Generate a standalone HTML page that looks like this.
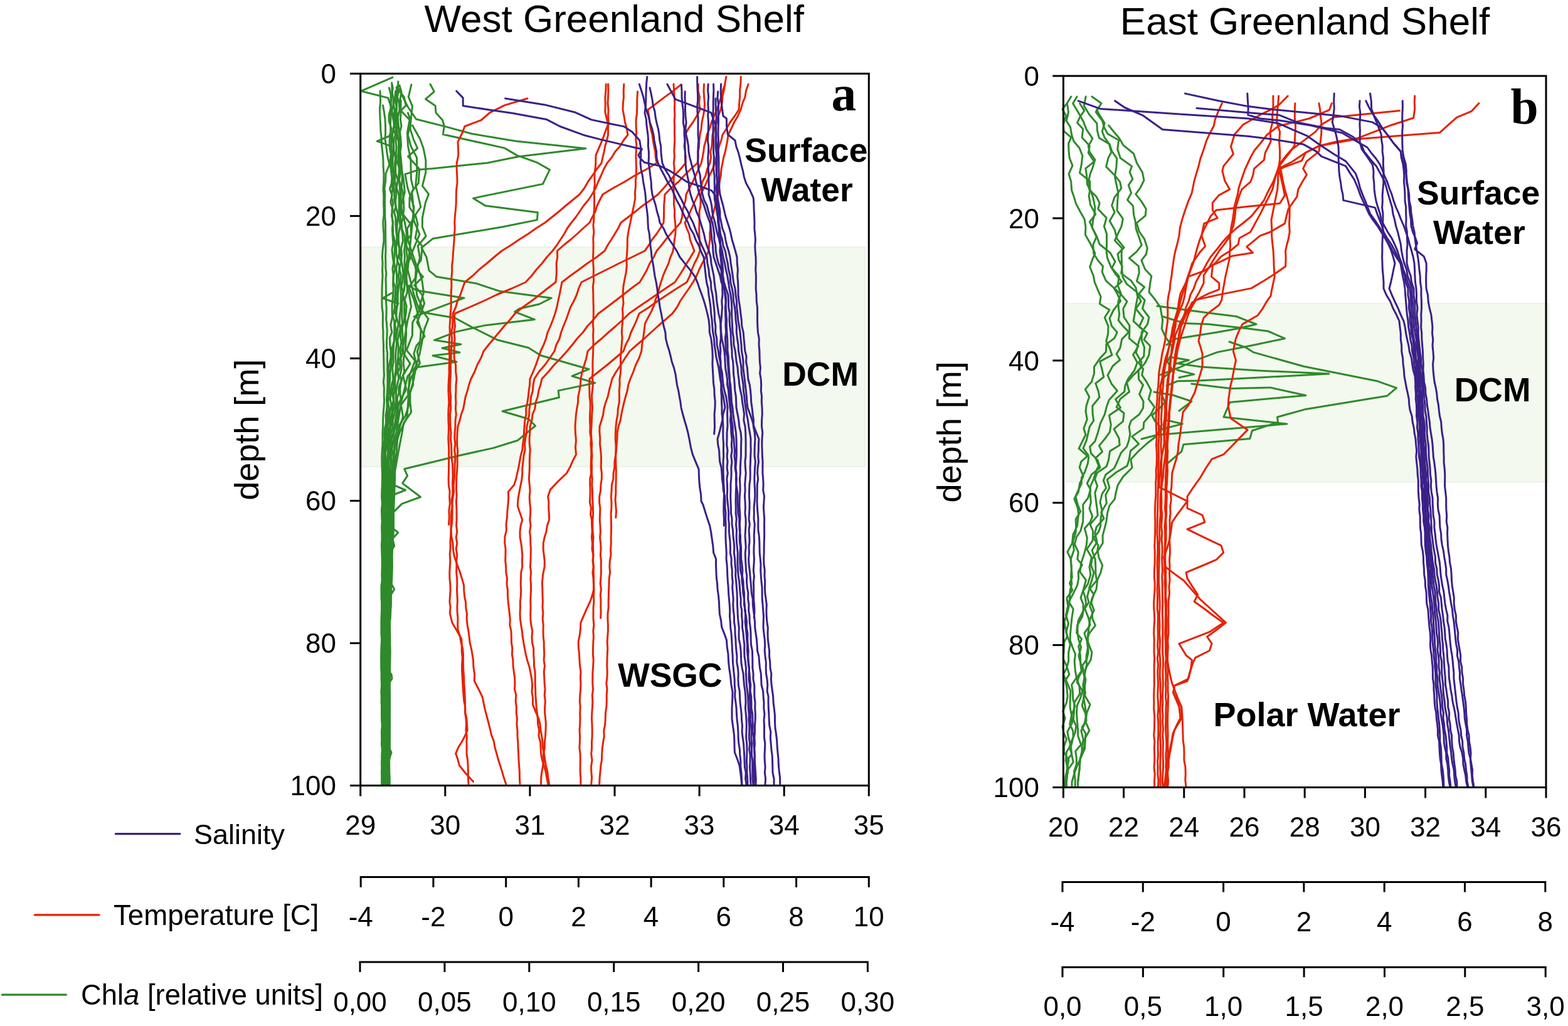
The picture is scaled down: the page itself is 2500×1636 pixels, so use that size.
<!DOCTYPE html>
<html><head><meta charset="utf-8"><title>Greenland Shelf profiles</title>
<style>html,body{margin:0;padding:0;background:#fff;}svg{display:block;}</style></head>
<body><svg width="2500" height="1636" viewBox="0 0 2500 1636">
<rect width="2500" height="1636" fill="#fff"/>
<rect x="576.5" y="393.8" width="802.8" height="350.4" fill="#f3f9ee" stroke="#e0eee2" stroke-width="1.2"/>
<rect x="1699.1" y="483.9" width="769.9" height="284.5" fill="#f3f9ee" stroke="#e0eee2" stroke-width="1.2"/>
<polyline points="625.9,123.4 575.8,145.2 618.6,156.1 624,171.5 627,190" fill="none" stroke="#2e8a2a" stroke-width="3" stroke-linejoin="round" stroke-linecap="round"/>
<polyline points="686,134.3 692.3,146.1 678.6,157.9 694.1,168.8 695,179.7 705.5,191.5 708.2,200.6 706.4,214.3 804.5,236.1 824.5,247.9 855.5,258.8 876.4,270.6 865.5,293.4 754.5,316.1 773.6,327.9 857.3,338.8 856.4,350.6 802.7,361.5 690,380.6 672,395 680,410 684,431.3 696.1,441.3 759.6,452 796.2,464.2 879.2,475.2 859.7,485 827.9,492.3 820.6,497.2 852.3,509.4 771.8,519.1 727.9,528.9 692.5,542.3 735,549 705,555 733,562 690,567 728,577 662,586 650,600 640,640 630,700 625,760 618,850" fill="none" stroke="#2e8a2a" stroke-width="3" stroke-linejoin="round" stroke-linecap="round"/>
<polyline points="640,150 650,170 663.5,190 709.3,201.6 752.1,213.3 822.1,225 934,236.7 826.4,249.7 777.3,259.7 690,268.8 667.7,270.6 645.9,277.9 650,300 660,330 655,380 650,430 660,470 669.3,497.2 725.4,507 752.3,521.6 793.8,542.3 842.6,554.5 862.1,566.7 939,588.7 912.1,599.7 948.8,610.6 890.2,622.9 891.4,633.8 801.1,655.8 842.6,668 853.6,679 825.5,702.2 786.4,714.4 735,725.8 644.7,747.7 649.6,758.7 641.7,770.6 670.5,792.5 640.7,803.4 626.7,817.4 622,860 618,950 616,1100 615,1251" fill="none" stroke="#2e8a2a" stroke-width="3" stroke-linejoin="round" stroke-linecap="round"/>
<polyline points="650,455 664.4,463 740,475.2 681.5,497.2 660,505" fill="none" stroke="#2e8a2a" stroke-width="3" stroke-linejoin="round" stroke-linecap="round"/>
<polyline points="622,760 625.7,772.6 646.6,781.5 625.7,789.5 620,800" fill="none" stroke="#2e8a2a" stroke-width="3" stroke-linejoin="round" stroke-linecap="round"/>
<polyline points="620,835 624.8,841.2 634.7,849.2 625.7,859.2 628.7,870.1 622.8,881 620,900" fill="none" stroke="#2e8a2a" stroke-width="3" stroke-linejoin="round" stroke-linecap="round"/>
<polyline points="618,920 622.8,928.8 628.7,939.8 621.8,950.7 618,960" fill="none" stroke="#2e8a2a" stroke-width="3" stroke-linejoin="round" stroke-linecap="round"/>
<polyline points="618,1070 624,1075 625,1082 620,1090" fill="none" stroke="#2e8a2a" stroke-width="3" stroke-linejoin="round" stroke-linecap="round"/>
<polyline points="617,1185 624,1200 619,1215" fill="none" stroke="#2e8a2a" stroke-width="3" stroke-linejoin="round" stroke-linecap="round"/>
<polyline points="603,225 601.4,225.2 620.5,217" fill="none" stroke="#2e8a2a" stroke-width="3" stroke-linejoin="round" stroke-linecap="round"/>
<polyline points="601.4,225.2 624.1,233.4" fill="none" stroke="#2e8a2a" stroke-width="3" stroke-linejoin="round" stroke-linecap="round"/>
<polyline points="625,467 609.8,475.6 635,484" fill="none" stroke="#2e8a2a" stroke-width="3" stroke-linejoin="round" stroke-linecap="round"/>
<polyline points="606,145 606.4,154 606.5,163 605.6,172 605.8,181 606,190 606.6,199.3 606.9,208.7 608,218 608.5,231 610,244 611,255 611.1,266 612,277 611.8,289.5 611,302 611.8,313 611.6,324 612,335 612,344 610.8,353 611,362 611.9,373 612,384 610,400 609.4,410 610.1,420 609.6,430 610,440 609.5,450 609.1,460 609,470 608.9,479.8 609.1,489.7 610.4,499.5 610.4,509.3 610.3,519.2 611,529 610.9,539 611.5,549 611.5,559 611.7,569 611.9,579 612,589 612.4,599 611.4,609 612.4,619 612.2,629 612.6,639 612,649 611.2,659.2 610.6,669.4 610.6,679.6 610,689.8 610,700 609.9,709 609.3,718 608.8,727 608.9,736 609,745 609.5,754.6 609.5,764.2 609.2,773.8 608.8,783.3 608.6,792.9 609.4,802.5 608.5,812.1 608.7,821.7 609.1,831.2 608.6,840.8 608.9,850.4 609,860 608.4,869.3 608.7,878.7 609.1,888 609.2,897.3 609.1,906.7 608.8,916 609.1,925.3 608,934.7 608,944 608.1,953.3 608.7,962.7 608.6,972 608.2,981.3 607.9,990.7 608,1000 607.9,1009.3 608.6,1018.6 608.2,1027.9 607.8,1037.2 607.6,1046.5 607.7,1055.8 607.7,1065.1 608.2,1074.4 608.1,1083.7 608.6,1093 607.8,1102.3 608.3,1111.6 608.1,1120.9 609,1130.1 608.9,1139.4 608.7,1148.7 609.2,1158 608.4,1167.3 609.1,1176.6 608.4,1185.9 609.3,1195.2 608.8,1204.5 609.3,1213.8 609,1223.1 608.5,1232.4 609.3,1241.7 609,1251" fill="none" stroke="#2e8a2a" stroke-width="3" stroke-linejoin="round" stroke-linecap="round"/>
<polyline points="610.5,168 612.5,179 614,190 614.5,200.7 614.6,211.3 614,222 615.7,233 617,244 618.6,253 621,262 615,277 614.7,288.5 613,300 613.8,309.1 613.5,318.2 613.5,327.3 613.8,336.4 613.8,345.5 614.5,354.5 614.6,363.6 614.7,372.7 614.7,381.8 614.9,390.9 615,400 614.6,409.1 614.9,418.2 614.8,427.3 615.9,436.4 615,445.5 615.4,454.5 615.4,463.6 615.6,472.7 615.5,481.8 616.2,490.9 616,500 615.7,509.1 616.7,518.2 617.2,527.3 617,536.4 616.5,545.5 616.5,554.5 617.7,563.6 617.5,572.7 617.7,581.8 617.7,590.9 618,600 618,609.1 617.8,618.2 617.2,627.3 616.5,636.4 617,645.5 617,654.5 616.8,663.6 615.4,672.7 615,681.8 615.9,690.9 615,700 615.2,709.1 614.6,718.2 614.3,727.3 613.6,736.4 613.8,745.5 613.3,754.5 613.4,763.6 612.4,772.7 613,781.8 612.3,790.9 612,800 612.3,809.1 611.3,818.2 612.2,827.3 612.1,836.4 611.2,845.5 611.6,854.5 611.8,863.6 611.4,872.7 611,881.8 611.6,890.9 611.6,900 611.6,909.1 611.6,918.2 610.8,927.3 611.9,936.4 611.3,945.5 611.5,954.5 611,963.6 611.1,972.7 610.5,981.8 610.8,990.9 611,1000 611.3,1009.3 611.2,1018.6 610.5,1027.9 611.5,1037.2 611.2,1046.5 611.5,1055.8 611.2,1065.1 610.6,1074.4 611.9,1083.7 612,1093 612,1102.3 611.8,1111.6 611.3,1120.9 611.1,1130.1 611.7,1139.4 611.6,1148.7 611.3,1158 611.9,1167.3 612,1176.6 611.3,1185.9 611.2,1195.2 612.5,1204.5 612.2,1213.8 611.3,1223.1 611.2,1232.4 611.9,1241.7 612,1251" fill="none" stroke="#2e8a2a" stroke-width="3" stroke-linejoin="round" stroke-linecap="round"/>
<polyline points="620.4,140 623.2,150.3 623,161.8 623.3,172 620.2,182.6 620.1,192.9 624.2,205.6 621.5,215.3 621.2,227.1 621.3,236 623.3,245.7 621.7,258.5 623.4,271.3 624.8,283.8 624.2,292.6 621.5,301.2 625.1,311.2 622.8,322.1 626.2,334.3 624.4,343.4 626.7,354.6 625.4,363.3 625.9,376.1 626.9,387.7 625,398.2 626.1,409.2 627.6,418.9 625.9,428.7 627.4,440.5 626.6,453 627.2,462.2 626.3,474.8 625.1,486.6 625.2,497.1 625.4,505.8 622.8,518.1 624.9,529.9 621.5,538.5 621.7,549.5 623,559 623,570.3 620.7,581.1 619.3,589.2 620.5,598.2 618.3,609.8 620.9,619.7 619.2,629.7 618.2,640.8 616.9,651.2 615.1,662.7 615.9,674.7 613.6,682.9 612.6,692.2 613.3,700.9 611.5,709.5 611.8,722.2 611.5,732.9 611,742.6 611.2,751.6 610.6,760.9 610.9,769.9 611.1,782.5 610.9,795.5 611.3,804.8 611.6,813.7 610.7,823.7 610.8,833 611.6,845.7 610.7,856.5 610.4,864.5 611,874 611.1,885.2 610.3,897.3 610.2,908.6 609.8,920.3 609.4,933.2 609.6,944.2 609.2,956.3 608.9,968.7 609.5,980.4 608.7,990.9 608.9,1000.8 608.6,1009.9 609.1,1022.1 609.2,1031.5 608.6,1042.6 609.1,1053.5 608.8,1062.1 609.1,1074.4 608.9,1083.5 609.2,1093.8 608.5,1106.1 608.9,1114.4 608.6,1122.5 608.5,1131 608.5,1142.1 609.6,1153 609.3,1161.7 608.6,1172.6 609.3,1185.3 609.5,1195.2 609.4,1203.7 608.5,1216 609.3,1228.5 608.7,1241.1 608.7,1251" fill="none" stroke="#2e8a2a" stroke-width="3" stroke-linejoin="round" stroke-linecap="round"/>
<polyline points="624.6,132 626.3,141 624.1,153.6 623,164.9 623.3,174 623,185.5 622.5,198.3 622.7,207.3 624.1,219.2 624,229.5 624.5,240.7 624.8,249.7 623.5,259.3 626.3,271.4 627.4,282.7 625.4,292.7 625.8,302.8 624.3,314.1 626.9,324.5 624.9,334.2 625.2,345.7 626.2,356.5 626.6,364.7 626.7,373 629.6,384.5 629.6,394.3 629.1,404.6 628.2,417 629.9,429.4 626.9,440.8 627,449.2 630.8,458.9 630,471.3 629.2,479.9 629.4,491.8 626.1,503.7 628.8,512.6 628.9,524.3 628.5,534.6 628.4,543.3 625,555.7 625.5,564 624.1,575.5 623.4,583.8 621.8,595.9 621.5,608.6 620.3,617.6 622.8,630.5 618.5,640.1 620.4,651.4 619,659.4 617.5,671.7 617.3,682.5 615.2,691.7 614.9,703 613.9,713.7 613.2,726.4 614.1,737.8 611.7,747.8 611.8,756.9 612.3,765.6 612.6,775.4 613,785.6 613,797 612.9,806.8 612.3,817.5 612.5,828.3 613,839.7 612.6,848.9 612.4,859.1 612,867.3 612.7,880.3 612.4,890.5 612.4,899.8 612.3,912.6 612.4,922.9 611.1,935.5 611.4,945.6 611.5,955 611.5,963.7 610.5,976 610.6,987.4 610.9,998.6 611,1011.5 610.9,1021.2 610.9,1029.9 610.4,1040 610.3,1049.2 610.2,1061.2 610.3,1070.3 610.9,1079.1 610.8,1090.1 610.6,1102.6 610.2,1110.8 610.9,1121.3 610.6,1133.9 610.7,1143.1 610.4,1155.7 611.1,1168.4 610.6,1179.3 610.1,1187.9 610.7,1196.1 611.2,1207.7 611.2,1218.7 610.1,1228.7 610.3,1237 611.1,1247.7 611.1,1251" fill="none" stroke="#2e8a2a" stroke-width="3" stroke-linejoin="round" stroke-linecap="round"/>
<polyline points="624.9,135 625,146.1 627,157.6 627,167.6 624.5,178.4 627,189 628.3,199.6 626.2,211.3 625.3,220.5 627.9,232.5 627,243.6 626.1,254.1 626,264.7 628.4,275.8 627.1,287.2 627.7,295.6 628.8,307.1 628.8,318.8 631.3,328.8 628.5,337.6 630.8,348.6 630.9,358.7 631.7,368.9 632.9,381.4 631.7,392.6 631.9,405.3 633.8,416.4 631.7,427.9 632.6,439.6 632.6,452.2 633.9,462.8 631.1,473.5 633.2,486.1 629.1,495 632.4,507.3 629.4,517.2 632.1,528.6 629.5,537.7 627.9,549 627.1,559.1 626.9,569.5 627.2,577.9 625.6,586.7 626.3,595.4 626.9,605 623.9,615.1 623.4,624 622.1,635.7 623.9,646 621.3,658.2 620.4,670.4 618.1,679.5 618.8,688.4 617.9,698.3 617.4,711.2 614.6,721.5 614.7,730.9 615.3,742.2 615.1,754.8 614.8,767.6 615,777.9 614.9,787.3 614.9,798.9 614.1,807.2 614,820 614.6,830.2 614.9,840.7 614.2,853.4 614.8,862.1 613.9,872.4 613.5,881.1 613.6,892 614.3,902.8 614.1,913.2 613.8,921.5 613.9,933.3 613.2,941.4 613.2,952.2 612.6,962.6 613.2,975.1 613.1,986.6 611.9,997.4 611.9,1008.8 612.5,1020.6 611.9,1029.6 611.9,1038 612,1050.9 611.9,1063.3 612.2,1073 612.8,1082.8 612.2,1092 611.8,1101 612,1112.4 612.5,1122.9 611.7,1131.3 612.8,1142.8 612.1,1150.9 612.6,1163.8 612.2,1176.8 611.6,1189.6 612.6,1200 612.1,1209.9 612,1220.2 612.7,1232.3 611.9,1241.4 611.9,1251" fill="none" stroke="#2e8a2a" stroke-width="3" stroke-linejoin="round" stroke-linecap="round"/>
<polyline points="630.8,145 629.7,155.3 627.5,167 629.2,175.3 628.2,184 630.4,196.4 627.1,205 630.5,214.1 628,222.2 627.6,230.8 628,241.4 630.6,251.4 629.4,263 630.5,275 629.5,287.1 631.2,297 631.8,309.7 630.6,320.1 630.9,329.5 634.4,342.4 633.4,354.9 632.9,366.4 632.7,376.8 633.6,386.9 636.9,395.4 636.6,403.9 633.4,415.4 637.4,425.8 635.5,438.8 636.1,450.6 635.2,460.1 634.2,471.1 634.2,483.2 632.2,494.9 631.8,505.1 635.2,516.4 633.6,527.1 631.6,538.2 632.6,548.1 631.2,559.4 630.5,569.7 631.4,580.5 631,590.2 629.2,602.4 627.1,615.3 625.4,627.9 627.4,637.7 625.8,645.9 624.9,658.2 622.1,669.7 621.7,679.3 619.2,687.6 619.2,700.1 618.2,708.9 618.8,718.3 617.9,727.7 616.3,739.5 616.5,748.7 616.6,758.7 616.7,768.4 615.9,778.5 616.8,790.3 616.3,801.7 616.7,814.1 616.2,822.2 615.9,830.2 616.1,839.5 616.5,850.8 615.5,860.1 616.2,873.1 615.2,883.9 616.1,892.2 615.9,902.8 615.6,914.7 614.8,926.7 614.9,936 615.1,947.8 614.7,959.6 614.1,970 614.5,981.3 614.4,991.9 614.6,1004.8 613.8,1013.3 614.2,1024.4 614.5,1033.8 614.3,1044.1 613.7,1052.4 614.3,1060.5 614.5,1071.1 613.7,1082.1 613.7,1091.9 613.4,1100.9 613.6,1112.2 614.1,1122.4 613.7,1131.8 613.6,1141.4 613.3,1152.7 613.3,1162.7 613.5,1174.1 613.7,1186.9 613.7,1198.2 613.9,1210.3 613.1,1221.5 614,1230.2 614.2,1240.3 614.2,1251" fill="none" stroke="#2e8a2a" stroke-width="3" stroke-linejoin="round" stroke-linecap="round"/>
<polyline points="633,138 632,150.4 630.2,159.5 632.3,171.1 629.5,179.2 629.3,191.6 630.4,202.9 632.9,214.1 631,225 632.1,234.7 631.3,245.8 632,256.1 630.7,265.4 630.8,276.3 634.3,287.2 632.3,299.4 635.7,309.5 636.4,319.2 636.2,328.2 635.8,336.4 635.9,348.4 638.1,359.6 635.5,372.6 635.4,383.2 636.4,393.1 638.9,401.9 636.8,410.3 639.7,418.4 636.4,427.6 639.3,438.7 638.5,449.8 639,460.5 639.3,470.1 639.1,481.5 638.7,494 637,504.6 637,516.3 638.3,524.4 636,533.4 633.8,543.7 635.4,554.5 634.9,566.6 634.2,576.1 633.9,588.9 630,601.2 629.8,612.6 629.5,621.4 627.6,630.3 627.4,639.4 629,648.6 625.9,657 625.5,665.3 624.3,674.4 622.3,683.6 620.6,694.1 620.6,706.5 620,716.5 619.2,729.2 617.9,739.2 618.9,749.1 617.9,760.1 617.7,772.6 618.4,782.4 618,795 618.1,803 617.4,813.2 618.4,822.9 617.5,831.1 618.2,840 618,849.5 617.1,860.9 617.1,871.1 617.4,883.1 617.6,892.9 616.6,905 616.7,913.5 616.7,923 617.2,933.2 617.1,944.5 616,955.6 615.8,966.5 615.6,977.4 615.6,990 615.4,1002.5 615.4,1011.6 616.1,1023.7 615.7,1035.4 615.3,1044.1 616.1,1052.3 615.8,1060.9 615.3,1068.9 615.2,1079.9 616,1088.3 614.9,1097.7 616.1,1109.3 614.9,1120 615.6,1130.1 615.3,1139.3 615.6,1151 615.9,1163.2 615.9,1173.8 615.3,1182.3 615.8,1193.7 615.2,1204.1 615.2,1216.5 615.2,1224.8 615.4,1234.2 614.6,1246.2 614.6,1251" fill="none" stroke="#2e8a2a" stroke-width="3" stroke-linejoin="round" stroke-linecap="round"/>
<polyline points="634.9,130 634.5,139.7 632.4,152.5 632.5,164.3 632.5,173.2 631.6,184.9 632.6,196.2 633.1,205.1 633.4,215 635.6,227.4 636,236.5 636,247.6 634.3,259.7 636.4,268.9 635.6,281.9 636.9,290.5 637.6,302.3 638.6,315.2 636.7,326.9 637.8,337.6 639,349.4 639.2,361.5 641.8,372.4 642.4,384.4 639.5,395.9 640.5,406 639.8,415.3 641.3,423.9 643,435.8 641.8,448.6 639.9,456.7 642.6,465 641.8,474.6 640.9,484.8 640.9,497.1 640.6,505.5 641.8,515.2 638.4,524.6 638.6,537.2 639.9,545.6 637.9,558.2 639.1,567 635.9,576.7 638.3,584.9 634.2,594.1 635.8,603.9 632.3,616.9 631.4,628 631.1,640.3 630.7,651.7 628.3,662.4 626.3,670.5 626.1,681.9 622.8,692.8 623.4,704.5 622.4,716.8 620.8,728.1 619.8,738 619.7,749.2 619.7,761.2 619.4,770.5 620.2,779.9 620.3,792.1 620,800.2 619.5,811.1 619.8,823.8 620,833.3 619.5,843.5 619.4,853.9 619.8,862 619.2,871.6 619.2,880.4 618.4,888.8 619.3,897.8 619,909.3 618.5,917.7 618.7,929.4 617.8,939.6 618.7,949.5 618.1,962 617.9,971.8 617.6,982.6 617.5,994.9 617.7,1003.4 616.9,1014.9 617.9,1025.5 617.5,1036.7 617.2,1047.1 617,1060.1 616.7,1070.4 617.4,1080.9 617.7,1092.4 616.8,1101.7 616.9,1111.5 616.7,1124.1 617.6,1134.4 616.9,1144.5 616.8,1154.6 617.3,1164.2 616.4,1172.2 617.2,1184.3 616.8,1194.4 616.5,1204.8 616.6,1214.9 616.6,1225.9 616.2,1236.8 616.1,1249.8 616.1,1251" fill="none" stroke="#2e8a2a" stroke-width="3" stroke-linejoin="round" stroke-linecap="round"/>
<polyline points="636.5,142 633.5,154.5 637,167.2 636.9,175.5 634.2,187.5 635.1,200.4 636.6,210.6 637.1,222.1 636.1,231.5 635.3,240.2 634.6,250.6 638,260.4 636.7,269.3 638.4,277.4 636.4,285.9 638.1,297.7 639.4,308.4 639.1,318.9 638.4,327.7 639.5,336.7 642.9,346.3 640.2,355.4 640.8,364.7 645.2,376.9 646,388.7 644.5,399.4 645.4,409.4 644.8,418.6 645.4,428.5 645.4,440.9 645.1,449.6 644.6,461.2 642.4,469.6 644.9,480.2 644.7,490.7 644.8,501.5 644.6,510.5 641.2,522.3 641.7,531.4 642.6,543.3 642.6,551.7 642.7,561.2 638.9,570.6 640,580.3 639.7,590.4 637.6,599 639.9,607.2 635.6,617.6 636.1,626.4 633.2,634.5 633.6,645.8 632.6,657.3 630.9,667 629.1,679 627.2,689.7 624.5,697.8 624.5,708.7 623.4,719.8 622.7,728 623,737 622.7,746.2 621.7,756.9 622.3,768 621.3,777.6 621.5,789.9 621.6,802.4 622,812.4 621.9,821 621.7,830.4 621.7,843.2 621.8,852.8 620.9,863.5 620.5,873.3 620.8,884.5 621.2,895.3 620,905.5 619.9,916.5 620.3,927.5 620.3,937.7 619.8,946.2 619.5,955.2 619.4,963.8 620.1,976.1 619.7,987.2 619.1,995.2 619.7,1006.8 619.7,1015.1 618.6,1028 619.6,1038 618.6,1047.7 619.2,1058.6 618.6,1070.5 618.6,1081 619.4,1093.7 618.4,1106.4 619.2,1115.3 619.2,1125.7 618.2,1136.9 619,1145.5 618.6,1154.9 618.1,1166 618.6,1174.4 618.4,1182.5 618.1,1192.5 618.8,1200.9 618.5,1212.3 618.9,1222.6 618,1232.9 618.4,1243.5 618.4,1251" fill="none" stroke="#2e8a2a" stroke-width="3" stroke-linejoin="round" stroke-linecap="round"/>
<polyline points="636.9,136 640.1,146.9 637.9,158.2 636.4,167.7 639.1,180.7 638.4,190 639.9,201.5 637.5,210.9 638.8,219.9 639.6,232.5 638.1,241.2 637.3,249.6 637.4,260 638.3,269.4 641.5,279.5 641,288.7 640.1,298.7 642.7,308.2 643.3,320.4 644.1,332.8 642.7,342.3 645.1,353.1 647.3,365.1 648.4,377.1 648,388.4 648,400.4 649.7,412.4 647.3,423 648.5,432.9 648,443.7 649,453.7 649.5,465.1 645.2,477.9 648.1,487.9 647.3,498.6 646,507.9 647,520.2 647.7,532.6 646.8,545.2 646.3,557.7 643.6,570.4 643.2,580.4 644.7,592.3 641,603.6 638.7,612 637.8,620.4 638,628.4 639.3,637.9 634.5,646.7 635.2,659.1 632.4,669.7 630.4,679.4 628,688.8 627.8,701.7 625.2,714 624.3,725.2 623.5,736.8 623.2,747.8 624.4,760.7 624.3,770.8 623.3,782.7 624,795 623.7,804.3 622.8,813.8 622.9,824.1 623.4,836.2 623,845.4 622.9,853.7 623.3,864.7 622.9,877.6 623.1,887.8 622.8,898.7 622.8,908.5 622.1,917.5 621.9,926.6 622.4,937.7 621.9,945.9 622,955 622,966.7 621.5,979.5 621.4,988.8 620.7,999.1 621.4,1007.7 620.5,1017.8 620.5,1026.9 621.2,1035.2 620.6,1045.6 620.5,1055.2 620.8,1065.7 620.6,1074.1 620.9,1086.5 620.5,1097.1 620.2,1106.7 620.1,1116.2 620.1,1124.4 621,1137.3 620.2,1145.5 620.2,1154.1 620,1165.1 619.9,1175.4 619.8,1185.9 620.1,1195.5 620.2,1204.9 620.1,1216.8 619.7,1229.1 620.4,1240.6 620.4,1251" fill="none" stroke="#2e8a2a" stroke-width="3" stroke-linejoin="round" stroke-linecap="round"/>
<polyline points="632.1,140 644.2,154.4 647.2,168.2 632.1,183.4 635.3,200.6 637.7,212.8 636.6,230.3 639.2,252.6 641,273 643.3,286.2 645.4,306.4 639.9,326.1 640.9,339.8 655.1,357.7 655.3,374.3 645.3,387.6 656.2,407.7 644.7,429.3 646.5,447.7 652.3,468.7 655.6,489 649.5,512.8 645.6,536.8 640.9,559.4 654,579.9 642.5,598.6 647.8,620.5 636.7,641.1 632.4,659.3 631.2,677.6 624.9,697.7 624,715.1 629.6,731.2 625.7,752.4 623.6,768.7 624.3,781.1 624.4,804.9 624.8,819.4 622.8,834.2 623.4,852.3 624.2,865.1 622.8,880.6 621.9,893.1 623.4,916.4 621.3,935.9 621.2,949.6 622.3,961.8 620.5,979.2 621.1,994.4 621.1,1012.6 621.6,1026.2 620.8,1039.4 620.1,1060.2 621.7,1072.4 620.1,1092.7 619.9,1112.7 619.6,1134.6 620,1147.9 621.2,1167.4 620.9,1182.3 620.2,1199.3 619.7,1219.4 619.8,1239.9 619.8,1251" fill="none" stroke="#2e8a2a" stroke-width="3" stroke-linejoin="round" stroke-linecap="round"/>
<polyline points="639.2,160 638.8,175.9 653.1,191.3 649.4,211.6 650.5,232.7 654.9,255 655,268.7 655.5,286.4 659.2,301 653,315.3 652.8,330.2 661.8,344.3 649.3,364.3 650.5,383.2 656.9,403 663.5,421.4 662.4,442.8 651.9,458.3 659.9,477.3 666.1,500 657.7,514.3 657.4,534.8 648.2,558.4 661.8,575.3 653,598.7 652,613.7 651.2,629.6 639.4,645.7 642.6,664.7 636.7,682.6 631.6,701.4 628.9,713.5 627.3,736 629.6,757.4 626.2,769.9 624.5,787.7 625.2,802.3 625.7,819.9 625.3,836.1 625.4,853.1 623.4,876.8 622.8,898.6 624,914.6 621.9,931.8 623.5,943.9 623,966.2 621.3,982.3 620.4,1002.5 620.6,1021.7 621.7,1036 621.8,1050.8 621.3,1070.8 620.5,1090.5 620,1114 620.9,1136.9 620.8,1156.2 620,1172.8 620.9,1189 621.1,1204.8 619.5,1225.1 621.1,1238.2 621.1,1251" fill="none" stroke="#2e8a2a" stroke-width="3" stroke-linejoin="round" stroke-linecap="round"/>
<polyline points="655.9,135 651.3,154.7 657.4,169.1 655,192.7 650.3,215 655.2,233.3 664.5,251.2 664.8,273.5 662.7,295.9 666.1,309.5 670.8,330 662.3,342.5 666.1,357.5 662.2,379.9 673.3,392.4 671.2,414.9 662.3,427.3 674.5,441.4 660.6,454.9 672.8,469.6 676.6,484 670.9,499.7 664.8,514 677,536.3 663.9,551.3 659.8,563.9 664,580.6 657.9,599.4 658.8,613.3 651.6,629.5 649.8,653.2 649,665.4 637.3,689 629.6,712.8 626.4,735.8 628.8,758.2 626.5,781.7 627.4,801.5 625.6,815 625.2,833.7 624.7,846.4 625.6,862.6 625.1,880.1 623.7,892.5 623.3,911.2 622.8,923.4 624,943.2 621.7,961.2 622.6,975.5 621.1,997 620.6,1014.6 621.9,1033.1 621.8,1051.1 621.7,1065.9 621.5,1083.6 621.1,1096.4 620.6,1115.9 620.1,1134.5 621.4,1151.5 620.9,1171.3 621.2,1193.8 620.5,1211.9 620.8,1234.4 620.8,1251" fill="none" stroke="#2e8a2a" stroke-width="3" stroke-linejoin="round" stroke-linecap="round"/>
<polyline points="657.6,200 669.9,222.1 675.2,236.7 678.9,255.8 678.8,275.1 673.5,296.4 683.5,309.6 678.4,323 673.5,346.9 673.3,362 679.2,376.5 666.2,392 669.5,411.2 665.7,425.3 672.9,447.4 675.5,466.6 668.9,489 683,508.6 676.9,524 673.8,540.1 669.3,563.4 663.4,584.2 659.4,605.6 653.9,627.1 653.9,641.7 655.7,657.1 643.4,675.1 641.2,689.3 637.2,709.8 633.9,727.6 629.8,751 629.2,774.9 628.3,798.7 627.5,819 627.6,835.7 627.2,852.3 625.1,869.6 625.3,891.7 625.4,903.8 624.7,925.3 623,942.9 623.3,957.5 622.7,977.6 621.4,992.4 621.9,1016.1 621.7,1039.4 621.1,1052.4 621.7,1071 620.7,1091.3 621.5,1114.3 621.5,1131.5 621.3,1148.4 620.4,1160.7 621,1183.9 620.8,1205.4 620.2,1222.1 620.4,1244.8 620.4,1251" fill="none" stroke="#2e8a2a" stroke-width="3" stroke-linejoin="round" stroke-linecap="round"/>
<polyline points="650.4,180 654.8,193 654.2,206.6 659.5,222.6 665.6,236.5 650.6,249.4 668.7,269.5 667.2,291.8 656.8,305.6 658.3,321.1 659.5,335.2 659.8,351.7 669,373.4 663.4,387 654.8,407.8 664.8,431.1 662.3,448.5 664.8,471.3 672.6,488.6 664,502.8 671.1,525.9 669.7,547.2 665.2,561 669.4,579.1 655,602.8 650.2,624.5 653.4,641.4 646,664 636.2,678.3 633.6,701.6 632.2,720.5 629,743.9 626.6,763.3 626.8,783.5 626.9,802.3 626.5,818.7 625.8,842.7 625.1,859.5 625.2,876 623.4,897.2 624.2,913.7 623.8,927.7 622.2,946.4 623.2,962.7 622.1,976.1 621.1,999.9 621.2,1021.4 621.8,1044.6 620.6,1065.5 620.8,1088.7 621.4,1110.4 620.8,1129.7 621.4,1150.9 621.3,1173.3 620.2,1188.4 620.6,1209.4 620.6,1232.1 620.6,1251" fill="none" stroke="#2e8a2a" stroke-width="3" stroke-linejoin="round" stroke-linecap="round"/>
<polyline points="840.9,157 804.5,167.9 780.9,179.7 767.3,191.5 740.9,201.5 737.3,211.5 730,226.1 730.5,236.6 730.9,247 728.2,260.6 728.2,270.9 728.8,281.2 729.1,291.5 727.6,302.4 727.3,313.4 727.2,324.3 726.4,335.2 725.3,345 724.8,354.8 725.2,364.5 724.4,374.3 724,384.1 723.2,394 722.4,403.9 721.9,413.7 720.6,423.5 720.7,433.4 719.7,444.5 719.9,455.5 719.3,466.6 719.2,477.7 719.2,488.8 718.2,499.9 717.7,510.9 717,522 717.4,531.1 716.3,540.2 716.2,549.2 716,558.3 716.8,567.4 716.5,576.5 716.1,585.5 716.2,594.6 715.6,603.7 715.1,613.2 714.9,622.8 715.4,632.3 715.9,641.9 715.1,651.4 714.8,660.9 714.9,670.5 715.4,680 715.3,689.3 714.7,698.6 715.3,707.9 715.7,717.2 715.7,726.6 715.6,735.9 715.6,745.2 715.4,754.5 715.1,764.2 715.4,773.9 717.1,783.6 716.7,793.3 717.3,803 715.9,814.2 716.3,825.3 715.4,836.5" fill="none" stroke="#e62200" stroke-width="3" stroke-linejoin="round" stroke-linecap="round"/>
<polyline points="1074,134 1074.6,144 1075.1,154 1075.8,164 1075.4,174 1075.9,183.5 1075.2,193 1075.7,202.4 1075.4,211.9 1075.8,221.4 1075.4,230.9 1074.8,240.4 1075.4,249.9 1074.3,259.4 1075.2,268.8 1074.8,278.3 1074,287.8 1074.5,297.3 1074.1,306.8 1074.6,316.3 1074.4,325.8 1075.7,335.3 1075.4,344.8 1076.5,354.3 1077.2,363.7 1076.9,373.2 1075.2,382.7 1074.4,392.2 1072.6,401.7 1068.5,411.2 1065.7,420.7 1061.2,430.2 1057.2,439.7 1054.1,449.1 1051.2,458.6 1049.1,468.1 1045.2,477.6 1042.7,487.1 1038.5,496.6 1033.4,506.1 1028.5,515.6 1027.1,526.7 1025.7,537.8 1023.7,548.9 1022.8,560 1018.9,571 1013.6,582 1009.7,593 1005,604 1001.8,613.5 1000.2,623 997.4,632.5 994.9,642 992.6,651.5 990.7,661 989.1,670.5 986,680 984.3,689.3 984,698.6 983.2,707.9 982.7,717.2 981.5,726.6 979.9,735.9 979.8,745.2 978,754.5 977.8,763.8 975.4,773.1 975.1,782.5 974.3,791.8 975,801.1 974.8,810.4 974.1,819.7 974.4,829 974.6,838.4 974.5,847.7 974.1,857 974.3,866.3 973.6,875.6 974,884.9 972.3,894.2 971.9,903.5 972.6,912.9 971.2,922.2 971,931.5 970.6,940.8 970.4,950.1 970.1,959.4 970.2,968.7 969,978 968.9,987.4 969.4,996.7 969.4,1006 968.7,1015.3 968.2,1024.6 968.8,1033.9 968.3,1043.2 968,1052.6 967.8,1061.9 968.3,1071.2 967.9,1080.5 966.8,1089.8 968,1099.1 967.2,1108.5 967.3,1117.8 966.9,1127.1 965.5,1136.6 965.2,1146 964.7,1155.5 962.8,1164.9 963.2,1174.4 961.6,1183.8 960.3,1193.3 959.7,1202.7 959.4,1212.2 957.8,1221.6 957,1231.1 956.1,1240.5 955.7,1250" fill="none" stroke="#e62200" stroke-width="3" stroke-linejoin="round" stroke-linecap="round"/>
<polyline points="1016.6,146 1015.7,160 1015.8,170.6 1015.4,181.2 1014,191.8 1014.2,202.4 1014.7,211.9 1013.7,221.4 1014.9,230.9 1014.3,240.3 1013.9,249.8 1014.2,259.3 1014.5,268.8 1014.4,278.3 1013.4,287.8 1013.5,297.3 1012.4,306.8 1012.8,316.3 1011,326 1009,335.6 1006.9,345.3 1005,355 1002.2,367.5 1000.4,380 1000.3,390.9 999.8,401.9 998.9,412.8 999.3,423.7 998.2,434.6 995.9,445.5 993.9,456.4 993.3,465.5 993.3,474.6 994,483.7 992.5,492.8 993.1,501.9 992.8,511 991.9,520.4 991.3,529.7 992.1,539.1 991.3,548.4 990.5,557.8 989.6,567.1 989.5,576.5 989.8,585.9 989.4,595.2 987.9,604.6 988.1,613.9 987.2,623.3 987.5,632.6 987.3,642 985.3,651.5 984.8,661 983,670.5 982,680 981.4,690 981.2,700 982,710 981.8,720 981.7,729.6 981.9,739.1 982.3,748.7 982.2,758.3 982.1,767.9 981.8,777.4 981.8,787 981,796.6 981.8,806.2 982.5,815.7 981.8,825.3" fill="none" stroke="#e62200" stroke-width="3" stroke-linejoin="round" stroke-linecap="round"/>
<polyline points="966.2,134.3 965.8,145.4 964.9,156.4 965.2,167.4 964.8,178.5 967.1,188.3 969.7,198.1 965.5,208.8 961.7,219.4 957.4,230.1 950,247.3 949.9,256.7 949.4,266.1 948,275.6 948,285 948.3,294.2 947.2,303.3 947.5,312.5 947.6,321.7 947.5,330.8 947,340 946.8,350 945.9,360 946.9,370 945.8,380 946.1,390 946,400 945.6,409.6 945.7,419.2 946.4,428.8 946.2,438.5 946.6,448.1 945.3,457.7 945.8,467.3 945.9,477 946.2,486.7 946.3,496.4 946.2,506.1 945.3,515.8 946.1,525.5 945.6,535.2 946,544.9 945.8,554.6 945.6,564 945.1,573.3 944.9,582.7 945.1,592 944.3,601.4 945.6,610.7 944.7,620.1 943.6,630.1 943.8,640.1 944.6,650 943.8,660 943.4,670 943,680 942.4,689.3 942.9,698.6 943.7,708 943.3,717.3 944,726.6 943.3,735.9 943.6,745.2 943.4,754.5 944.2,763.8 943.8,773.2 944.6,782.5 944.5,791.8 945,801.1 945.4,810.4 945.7,819.7 945,829 944.8,838.3 945.1,847.6 946.1,857 945.3,866.3 945.6,875.6 946,884.9 945.5,894.2 946.4,903.5 946.3,912.8 946.6,922.1 946.7,931.5 947.1,940.8 946.5,950.1 947,959.4 946,968.7 946,978 946,987.3 946.9,996.7 945.8,1006 946.4,1015.3 945.8,1024.6 945.5,1033.9 945.4,1043.2 946.2,1052.6 945.7,1061.9 945,1071.2 944.8,1080.5 944.8,1089.8 945.6,1099.1 944.3,1108.5 944.9,1117.8 944.5,1127.1 943.8,1136.6 943.5,1146 944,1155.5 944.2,1164.9 944.1,1174.4 943.5,1183.8 943.5,1193.3 942.7,1202.7 944,1212.2 942.6,1221.6 942.8,1231.1 943.6,1240.5 942.7,1250" fill="none" stroke="#e62200" stroke-width="3" stroke-linejoin="round" stroke-linecap="round"/>
<polyline points="969.6,134.3 969.9,144.5 969.5,154.7 969,164.8 970,175 969.6,185 970.3,195 969.5,205 969.5,215 967.5,224 964.7,233 963.1,242 960.9,251 959,260 951.3,270 944.5,280 937.3,290 931.7,300 924,310 913,319 902,328 891.5,337 880.3,346 869,355 854.8,364 842.1,373 827.7,382 814.6,391 800,400 787.8,410 776.1,420 763.8,430 753.3,440 741,450 737.4,460 734,470 729.4,480 726.6,490 722,500 722,510 721.6,520 719.7,530 720.6,540 720.3,550 719,560 719.2,571 718.4,582 718.5,593 718,604 717.6,613.5 717.5,623 718.7,632.5 718.3,642 718.7,651.5 717.5,661 717.8,670.5 718,680 719.1,690 718.4,700 719.5,710 719.9,720 720,730 721.5,740 721.8,750 722,760 721.5,769.3 721.8,778.7 721.9,788 720,797.3 721.3,806.7 719.6,816 719.6,825.3 718.9,834.7 719.1,844 719.7,855.1 722,866.3 722.6,877.5 724.7,888.6 728.6,899.8 732.9,911 736.4,922.1 739.6,933.3 739.8,942.4 740.7,951.4 742.6,960.5 742.8,969.5 744.5,978.6 744.2,987.6 745.2,996.7 746.9,1006 748.1,1015.3 749.1,1024.7 751.4,1034 753,1043.3 754.5,1052.6 754.9,1063.8 756.7,1074.9 756.4,1086.1 763.3,1099.2 769.4,1112.2 771.3,1122.1 773.5,1132.1 776.1,1142 778.7,1151.9 781.2,1161.9 783.5,1171.8 787.3,1181.7 789,1191.7 791.8,1201.6 794.5,1211.3 797.6,1221 800.6,1230.6 803.4,1240.3 806.7,1250" fill="none" stroke="#e62200" stroke-width="3" stroke-linejoin="round" stroke-linecap="round"/>
<polyline points="994.8,134.3 994.2,144.5 994.4,154.7 993.4,164.8 993,175 994.9,185 996.5,195 999.3,205 1001,215 994,224 988.6,233 980.7,242 975.4,251 968,260 962.5,270 958.3,280 953.7,290 949.6,300 944,310 938,319 930.5,328 924.4,337 918.2,346 911,355 904.4,364 899.6,373 893.6,382 887.8,391 881,400 871.9,410 864.2,420 855.1,430 847.4,440 838,450 815.9,460 791.9,470 771,480 748.2,490 725,500 724.4,510 725.5,520 723.9,530 725.1,540 724.3,550 724,560 724.1,571 726.6,582 726.7,593 728,604 727,613.5 726.9,623 726.5,632.5 726.9,642 726.4,651.5 727.3,661 726,670.5 726,680 725.1,689.3 724.8,698.6 725.9,707.9 724.6,717.2 726,726.6 725.5,735.9 725,745.2 724.7,754.5 724.2,764.4 723.1,774.4 723.6,784.3 721.9,794.3 720.9,804.2 721.1,814.2 721,824.1 720.6,834.1 719.1,844 718.6,853.9 718,863.8 718.1,873.8 717.2,883.7 717.8,893.6 717.3,903.5 716.8,912.8 716.9,922.1 717.8,931.4 718.1,940.8 717.5,950.1 716.9,959.4 718.1,968.7 717.3,978 721,993 728.6,1006 735.9,1019 736.3,1029.1 736.2,1039.2 737.3,1049.3 736.6,1059.5 736.6,1069.6 737.2,1079.7 737.7,1089.8 738.3,1099.1 739,1108.5 739.8,1117.8 741.8,1127.1 741.9,1136.4 744,1145.8 744.5,1155.1 745.2,1164.4 741.2,1173.7 736.2,1183 730.5,1192.3 726.6,1201.6 730,1210.9 732.2,1220.2 742.5,1233.2 754.5,1246.3" fill="none" stroke="#e62200" stroke-width="3" stroke-linejoin="round" stroke-linecap="round"/>
<polyline points="1085.5,135.2 1073.2,145.1 1059.3,155.1 1046.2,165.1 1033,175 1034.7,185 1035.9,195 1037.4,205 1040,215 1041.2,224 1042.8,233 1044.7,242 1045.3,251 1047,260 1030.6,270 1011.9,280 995.7,290 977.4,300 961,310 956.3,319 951.9,328 949.3,337 944.5,346 940,355 929.8,364 920.1,373 909.9,382 898.6,391 888.5,400 888.7,410 887.1,420 887.4,430 887.1,440 886,450 872.8,460 860.3,470 847.4,480 833.3,490 821,500 813.1,510 803.8,520 795.6,530 787.2,540 778.9,550 771,560 766.8,571 760.9,582 756.6,593 751,604 747.7,613.5 745.3,623 742.2,632.5 740.5,642 738.7,651.5 735.3,661 733,670.5 730,680 729.1,690 728.7,700 728.8,710 729.8,720 729.1,730 729.3,740 728.7,750 728,760 727.6,770 727.4,780 728.2,790 727.4,800 728,810 728,820 728.1,829.2 727.6,838.4 728.8,847.7 727.2,856.9 728.8,866.1 727.2,875.3 728.8,884.6 727.8,893.8 728,903 727.6,912.2 728.6,921.4 728.9,930.5 728.5,939.7 728.9,948.9 729.4,958.1 728.9,967.3 729.1,976.5 730,985.6 729.7,994.8 730,1004 733.2,1014 735,1024 737.7,1034 738.5,1043.3 738.5,1052.6 738.4,1061.9 739,1071.2 739.7,1080.5 739.9,1089.8 740.7,1099.1 741.1,1108.4 741.5,1117.7 741.5,1127 741.5,1136.5 743,1145.9 743.5,1155.4 742.9,1164.8 744.3,1174.3 744,1183.8 744.1,1193.2 744.1,1202.7 745.6,1212.2 746.1,1221.6 746.4,1231.1 746.4,1240.5 747,1250" fill="none" stroke="#e62200" stroke-width="3" stroke-linejoin="round" stroke-linecap="round"/>
<polyline points="1113.3,134.3 1113.1,144.5 1115.5,154.7 1114.8,164.8 1116,175 1110.9,185 1104.8,195 1097.6,205 1092,215 1092.2,224 1092.2,233 1092.4,242 1093.3,251 1093,260 1084.8,270 1075,280 1066.7,290 1058.1,300 1049,310 1037.4,319 1024.7,328 1013.4,337 1001.8,346 990,355 985.6,364 980.2,373 974.7,382 968.8,391 964,400 951.2,410 936.3,420 922.9,430 909,440 896,450 894,460 892.1,470 889.8,480 887.8,490 885,500 881.5,510 877.6,520 873.1,530 870.5,540 866.7,550 862,560 858.2,571 854.4,582 849.9,593 845,604 844.6,613.5 843.2,623 842.2,632.5 840.8,642 838.7,651.5 838.9,661 836.9,670.5 836,680 835.5,689.3 835.1,698.6 833.6,708 832.8,717.3 830.2,726.6 828.5,735.9 826.9,745.2 824.7,754.5 822.8,763.8 819.7,773.1 810.4,784.3 810.7,794.5 810,804.8 808.9,815 808.5,825.3 807,835.5 807.4,845.8 804.9,856 804.8,866.3 806.1,875.6 806,884.9 805.7,894.2 806.7,903.5 806.8,912.8 808.5,922.1 808,931.4 809.4,940.8 809.5,950.1 810.2,959.4 811.2,968.7 812.3,978 813.3,987.3 812.8,996.6 815,1006 815.3,1015.3 815.4,1024.6 816.9,1033.9 816.4,1043.3 817.9,1052.6 818.1,1061.9 819.3,1071.2 820.6,1080.5 821,1089.8 820.5,1099.2 822.9,1108.5 822.1,1117.8 823.4,1127.1 823.3,1136.6 824.4,1146 823.9,1155.5 825,1164.9 825,1174.4 825.9,1183.8 826.1,1193.3 826.7,1202.7 827,1212.2 827.7,1221.6 828.4,1231.1 828.4,1240.5 829,1250" fill="none" stroke="#e62200" stroke-width="3" stroke-linejoin="round" stroke-linecap="round"/>
<polyline points="1122.5,134.3 1122,144.5 1122.6,154.7 1123.5,164.8 1123,175 1121.2,185 1119,195 1118.1,205 1116,215 1114.9,224 1114.6,233 1113.1,242 1113.3,251 1112,260 1100.8,270 1090.8,280 1081.6,290 1069.7,300 1060,310 1059.4,319 1058.6,328 1058.6,337 1058.5,346 1058,355 1052.8,364 1046.8,373 1039.7,382 1034.5,391 1028,400 1007.7,410 986.9,420 967,430 946.9,440 927,450 922.6,460 919.5,470 914.9,480 909.5,490 906,500 902.5,510 898.3,520 894.6,530 892,540 886.9,550 884,560 876.4,571 868.7,582 859.1,593 852,604 850.1,613.5 849.5,623 846.7,632.5 845.8,642 844,651.5 843.7,661 842.1,670.5 840,680 839.6,689.3 837.8,698.6 836.6,707.9 837.1,717.2 835,726.6 834.1,735.9 832.9,745.2 832.8,754.5 831.9,764.9 829.7,775.4 827.7,785.8 825.9,796.3 825.3,806.7 829,817.9 832.8,829 830.1,838.4 829,847.7 829.1,857 830.9,866.3 832,875.6 832.8,884.9 832.5,894.2 832.8,903.5 830.8,912.8 830.5,922.1 830.2,931.5 830.7,940.8 830.4,950.1 829.3,959.4 829.5,968.7 829,978 829.4,987.3 830.8,996.7 832.3,1006 833.3,1015.3 834.8,1024.7 836.5,1034 838.4,1043.7 840.8,1053.4 843.9,1063 845.9,1072.7 847.7,1082.4 848.7,1092.7 848,1102.9 849.6,1113.2 849.5,1123.4 853.9,1134.6 858.8,1145.7 861.1,1155.2 862.1,1164.7 863.7,1174.1 865.1,1183.6 865.6,1193.1 867.6,1202.6 868.9,1212.1 870.6,1221.6 873,1231 873.9,1240.5 875.6,1250" fill="none" stroke="#e62200" stroke-width="3" stroke-linejoin="round" stroke-linecap="round"/>
<polyline points="1156.1,134.3 1152.3,144.5 1149.7,154.7 1146.5,164.8 1143,175 1138.6,185 1134.4,195 1131.5,205 1127,215 1125.4,224 1122.8,233 1121.7,242 1120.1,251 1118,260 1113.6,270 1109,280 1104.4,290 1099.1,300 1094,310 1093.1,319 1090.4,328 1088.2,337 1087.6,346 1085,355 1077,364 1069.2,373 1061.5,382 1054.7,391 1047,400 1042.3,410 1035.9,420 1031.6,430 1026.1,440 1020,450 1006.3,460 993.6,470 980.6,480 967.5,490 954,500 946,510 936.6,520 929.4,530 920.1,540 912.3,550 904,560 894.1,571 883.3,582 874.3,593 864,604 861.8,613.5 858.8,623 857.3,632.5 853.9,642 852.9,651.5 849,661 847.9,670.5 845,680 844.9,689.3 844.1,698.6 844.2,707.9 845.3,717.2 844.6,726.6 844.3,735.9 844.4,745.2 843.9,754.5 843.4,763.8 844.3,773.1 845.1,782.5 844.2,791.8 844.6,801.1 845.7,810.4 845.7,819.7 844.8,829 846.1,838.3 844.6,847.7 845.7,857 845.8,866.3 846.4,875.6 846.2,884.9 846,894.2 845.4,903.5 846.6,912.8 845.9,922.1 846.5,931.5 846.6,940.8 846.1,950.1 845.8,959.4 846.1,968.7 845.8,978 845.9,987.3 846.9,996.6 848.8,1006 848,1015.3 848.5,1024.6 850.7,1033.9 850.7,1043.3 851.4,1052.6 851.5,1061.9 853.1,1071.2 853.3,1080.5 853.2,1089.8 853.7,1099.2 853.8,1108.5 854.6,1117.8 855.1,1127.1 856.3,1136.4 857.3,1145.7 857.6,1155 859.6,1164.3 859,1173.7 861.6,1183 862.1,1192.3 862.6,1201.6 864.2,1211.3 867.4,1221 870.1,1230.6 871.8,1240.3 873.7,1250" fill="none" stroke="#e62200" stroke-width="3" stroke-linejoin="round" stroke-linecap="round"/>
<polyline points="1157.8,122.6 1155.9,133.1 1154.3,143.6 1152,154 1151.2,164.5 1149,175 1145.2,185 1142.9,195 1139,205 1136,215 1135.5,224 1134.9,233 1132.8,242 1133.6,251 1132,260 1127.4,270 1125.1,280 1119.8,290 1117.5,300 1113,310 1108.9,319 1104.8,328 1100.7,337 1097.1,346 1092,355 1094.8,364 1098.8,373 1100.2,382 1103.6,391 1107,400 1101,410 1094.8,420 1089,430 1082.7,440 1076,450 1061,460 1046.5,470 1032,480 1017.1,490 1003,500 992.7,510 981.7,520 970.1,530 959,540 947.1,550 937,560 934.9,571 931.5,582 928.2,593 926,604 925.4,613.5 923.8,623 921.8,632.5 921.5,642 919.8,651.5 918.4,661 917.7,670.5 917,680 917.5,691.2 918.4,702.4 917.5,713.5 918.5,724.7 913.3,734.6 908.9,744.6 903.5,754.5 889.9,767.5 877.5,780.6 873.7,791.8 874.9,801.1 874.7,810.4 875.4,819.7 875.6,829 872.4,838.3 871,847.6 868.1,857 866.3,866.3 866.1,875.6 867.2,884.9 868.3,894.2 868.2,903.5 865.6,916.5 864.4,929.6 864.9,939.2 865,948.8 865.4,958.4 865,967.9 865.9,977.5 865.2,987.1 866.3,996.7 866,1006 866.3,1015.3 867.2,1024.6 867.3,1033.9 867.8,1043.2 867.1,1052.6 868.5,1061.9 867.2,1071.2 867.8,1080.5 868.2,1089.8 869.1,1099.1 868.2,1108.5 869.4,1117.8 868.7,1127.1 868.6,1136.4 869.7,1145.8 870.4,1155.1 870,1164.4 869.5,1173.9 868.4,1183.4 868.3,1192.9 866.5,1202.4 866.7,1212 865.6,1221.5 863.8,1231 862.7,1240.5 862.6,1250" fill="none" stroke="#e62200" stroke-width="3" stroke-linejoin="round" stroke-linecap="round"/>
<polyline points="1181.3,122.6 1180.9,133.1 1179.6,143.6 1179.7,154 1178.7,164.5 1178,175 1171.4,185 1164.1,195 1158.3,205 1152,215 1149.8,224 1146.7,233 1144.5,242 1141.9,251 1140,260 1135.9,270 1131.2,280 1126.8,290 1122.3,300 1117,310 1117,319 1116.9,328 1115,337 1115.1,346 1115,355 1114.7,364 1114.9,373 1115.4,382 1115.8,391 1116,400 1112.4,410 1107.3,420 1103.1,430 1099.9,440 1095,450 1079,460 1063.7,470 1048.6,480 1034.7,490 1019,500 1015.3,510 1010.8,520 1006,530 1002.8,540 997.5,550 994,560 981,571 967.9,582 954,593 940,604 939.5,613.5 939.9,623 940,632.5 941.2,642 941.1,651.5 940.6,661 940.5,670.5 941,680 940.7,689.3 942.3,698.6 941.8,708 942.7,717.3 942.7,726.6 942.3,735.9 942.1,745.2 942.6,754.5 940.7,763.9 940.7,773.2 941.2,782.5 940.8,791.8 940.4,801.1 942.5,810.4 941.5,819.7 943.5,829 943.6,838.4 944.2,847.7 943.4,857 944.5,866.3 944,875.6 945.9,884.9 945,894.2 946.2,903.5 944.9,912.9 946,922.2 946.4,931.5 946.4,940.8 944,950.1 940.8,959.4 935.5,970.6 930.6,981.8 925.9,993 925.4,1002.9 924.3,1012.9 922.2,1022.8 922.4,1032.5 923.5,1042.2 923.9,1051.8 924.6,1061.5 925.9,1071.2 925.5,1080.5 925.9,1089.8 925.6,1099.2 924.8,1108.5 924.3,1117.8 925.2,1127.1 924.7,1136.4 925,1145.8 924.7,1155.1 924,1164.4 924.6,1173.9 924.4,1183.4 923.9,1192.9 925.1,1202.4 925.3,1212 925.1,1221.5 925.1,1231 925.8,1240.5 925.9,1250" fill="none" stroke="#e62200" stroke-width="3" stroke-linejoin="round" stroke-linecap="round"/>
<polyline points="1193.1,134.3 1189.5,144.5 1187.9,154.7 1183.8,164.8 1181,175 1176.5,185 1170.6,195 1165.9,205 1161,215 1159.8,224 1158.1,233 1156.3,242 1153.7,251 1152,260 1150,270 1149.3,280 1147.1,290 1145.6,300 1145,310 1142.1,319 1140.4,328 1138.1,337 1135.4,346 1133,355 1132.6,364 1131.7,373 1131.9,382 1130.5,391 1130,400 1125.1,410 1119.6,420 1114.8,430 1110.5,440 1105,450 1098.4,460 1091.4,470 1084.6,480 1079.4,490 1072,500 1060.6,510 1049,520 1038,530 1027,540 1015.3,550 1004,560 996.6,571 989.7,582 982.2,593 976,604 973.6,613.5 971.1,623 969.1,632.5 965.6,642 962.9,651.5 961.7,661 959,670.5 956,680 955.9,689.3 956.8,698.6 956.5,708 957.6,717.3 958.4,726.6 958.5,735.9 958.2,745.2 959.4,754.5 959.3,763.8 957.9,773.1 957.5,782.5 955.7,791.8 955.6,801.1 956.9,810.4 956.6,819.7 956.2,829 957,838.4 957.4,847.7 956.6,857 957.6,866.3 958.1,875.5 957.4,884.6 958.4,893.8 958.2,903 958.4,912.1 957.9,921.3 957.2,930.5 958.4,939.7 957.3,948.8 958,958 957.8,967.2 958.1,976.3 957.6,985.5" fill="none" stroke="#e62200" stroke-width="3" stroke-linejoin="round" stroke-linecap="round"/>
<polyline points="727.8,145.2 738.2,156.1 738.2,168.8 780.9,175.2 817.3,180.6 871.8,190.6 892.7,201.5 930,215.2 956.4,222.1 985,228.9 1013.9,235.7 1023.6,237.6 1017.8,247.4 1019.8,251.3 1027.5,259 1052.8,264.9 1068.4,272.7 1084,282.4 1095.6,290.2 1119,298 1134.6,303.8 1140.4,311.6 1141.5,322.5 1142.6,333.3 1144.4,344.1 1145,355 1146.1,364.2 1146.8,373.3 1146.8,382.5 1148.4,391.7 1147.8,400.8 1149,410 1150,420 1150.3,430 1150,440 1151.7,450 1151.8,460 1152,470 1150.8,480 1151.4,490 1150.8,500 1150,510 1148.7,520 1149.3,530 1149.3,540 1148,550 1148.9,559.1 1148.2,568.2 1149.1,577.3 1148.5,586.4 1149.4,595.5 1149.2,604.5 1149.9,613.6 1149.6,622.7 1150.4,631.8 1150.5,640.9 1151,650 1151,660 1152.4,670 1152.9,680 1152.8,690 1153,700 1153.6,709.1 1153.4,718.2 1153.7,727.3 1153,736.4 1153.1,745.5 1153.2,754.5 1153.6,763.6 1153.8,772.7 1154.5,781.8 1154.4,790.9 1154,800 1153.8,809.5 1153.9,819.1 1154.5,828.7 1154.2,838.2" fill="none" stroke="#3a2088" stroke-width="3" stroke-linejoin="round" stroke-linecap="round"/>
<polyline points="805.6,156.9 870.8,167.6 917.5,179.3 942.8,190.9 975,197.8 994.5,201.6 1008.1,210.4 1019.8,224 1021.7,235.7 1021.9,247.8 1021,260 1022,270 1024.4,280 1025.6,290 1027.5,300 1029,310 1029.7,319 1030.4,328 1031.7,337 1032.7,346 1033,355 1033.5,364.2 1035.4,373.3 1036.2,382.5 1037,391.7 1038.3,400.8 1039,410 1041.1,420 1042.6,430 1044,440 1046.2,450 1047.8,460 1049,470 1050.8,480 1052.2,490 1054.3,500 1056.1,510 1058.2,520 1060.9,530 1061.5,540 1064,550 1067,559.2 1069.3,568.4 1071.4,577.6 1074.6,586.8 1076.9,596 1078.2,605 1079.5,614 1081.7,623 1083.2,632 1084.9,641 1086,650 1088.5,660 1091.3,670 1094.3,680 1096.9,690 1099,700 1101.2,712.3 1104.3,724.6 1109.1,736.4 1114.1,748.1 1114.4,758.3 1114.9,768.5 1115.9,778.6 1117.6,788.8 1118,799 1121,805 1124.4,816.1 1127.9,827.1 1131.7,838.2 1133.7,849 1135.2,859.8 1136.8,870.5 1137.6,881.3 1141.5,891 1141.5,900.8 1141.9,910.6 1142.3,920.5 1143.5,930.3 1144.1,940.1 1145.5,949.9 1146.4,959.6 1146.8,969.4 1147.4,979.2 1149.6,989.6 1150.7,1000 1154.8,1010.4 1158.5,1020.7 1159.2,1031.8 1161,1043 1161.5,1054.5 1162.7,1066 1164.5,1077.5 1165.7,1090.5 1168,1103.4 1167.7,1116.3 1167,1129.2 1167,1146.4 1168.8,1159.3 1170.5,1172.3 1170.9,1181.5 1171,1190.6 1171.4,1199.8 1175.5,1210.2 1179,1220.5 1180.4,1230.8 1181.7,1241.2 1182.6,1251.5" fill="none" stroke="#3a2088" stroke-width="3" stroke-linejoin="round" stroke-linecap="round"/>
<polyline points="1031.8,122.6 1030.8,131.7 1030.3,140.9 1030,150 1029.8,160 1029.3,170 1028,180 1030.3,190 1031,200 1033,215 1033.6,224 1033.4,233 1034.4,242 1034.4,251 1034,260 1035.7,270 1036.8,280 1038.2,290 1038.6,300 1040,310 1042.7,319 1045.5,328 1047.4,337 1050.2,346 1052,355 1058,364.2 1062.1,373.3 1067.5,382.5 1073.7,391.7 1079.4,400.8 1084,410 1092.2,420.4 1100.6,430.9 1108.2,441.3 1112.2,450.9 1115.3,460.4 1119,470 1122.4,480 1125.3,490 1127.8,500 1130,510 1131.1,520 1131.3,530 1133.8,540 1135,550 1135.9,560 1136.2,570 1135.9,580 1136.4,590 1137,600 1137.4,610 1138.8,620 1139.1,630 1140.2,640 1140,650 1139,660.5 1139.3,671 1139.5,681.5 1138.6,692" fill="none" stroke="#3a2088" stroke-width="3" stroke-linejoin="round" stroke-linecap="round"/>
<polyline points="1149.6,134 1149.1,147 1150,160 1151.3,172.5 1153,185 1158.4,189 1158.6,201.7 1160.3,214.3 1172,224 1173.9,233.7 1177.4,243.5 1179.8,253.2 1182,262.9 1184.5,272.6 1186.4,282.4 1189.5,292.1 1196,303.8 1201.2,315.4 1201.9,325.3 1202.1,335.2 1202.6,345.1 1203,355 1202.8,364.2 1203.8,373.3 1204.4,382.5 1203.8,391.7 1204.1,400.8 1205,410 1205.2,420 1204.7,430 1205.4,440 1205.3,450 1205.1,460 1206,470 1206.2,480 1207.5,490 1207.6,500 1207.5,510 1207.8,520 1208.4,530 1210.3,540 1210,550 1210.9,559.1 1211.1,568.2 1211.4,577.3 1212.4,586.4 1211.6,595.5 1213.2,604.5 1213.7,613.6 1213.3,622.7 1214.5,631.8 1214.3,640.9 1215,650 1215.3,660 1214.6,670 1214.5,680 1215.8,690 1215,700 1214.8,709.1 1215.1,718.2 1215.4,727.3 1216.1,736.4 1215.9,745.5 1215.9,754.5 1216.7,763.6 1217.1,772.7 1216.7,781.8 1218.5,790.9 1218,800 1217.4,809.1 1218,818.2 1218.7,827.3 1218.5,836.4 1218.6,845.5 1218.7,854.5 1218.3,863.6 1218.1,872.7 1218.1,881.8 1217.7,890.9 1218,900 1219.2,909.2 1218.9,918.3 1219.8,927.5 1219.5,936.7 1219.8,945.8 1221.1,955 1222.3,964.2 1221.9,973.3 1222.1,982.5 1222.9,991.7 1224.3,1000.8 1224,1010 1224.3,1019.2 1225.4,1028.3 1226.6,1037.5 1226.6,1046.7 1227.7,1055.8 1228,1065 1229.8,1074.2 1229.4,1083.3 1230.2,1092.5 1231.4,1101.7 1232.7,1110.8 1233,1120 1234.3,1130 1235.4,1140 1235.5,1150 1235.9,1160 1237.4,1170 1238.6,1180 1239.1,1190 1240,1200 1241,1210 1241.4,1220 1242.3,1230 1243.6,1240 1243.7,1250" fill="none" stroke="#3a2088" stroke-width="3" stroke-linejoin="round" stroke-linecap="round"/>
<polyline points="1144.7,146 1144,155.9 1145.5,165.7 1145.2,175.6 1145.4,185.4 1145.5,195.3 1145.1,205.1 1145,215 1145.5,224 1144.8,233 1145.4,242 1145.9,251 1146,260 1146,270 1146.3,280 1146.9,290 1146.8,300 1148,310 1150.4,319 1152.9,328 1154.9,337 1157.1,346 1160,355 1163,364.2 1165.3,373.3 1167.2,382.5 1170,391.7 1172.6,400.8 1175,410 1175.3,420 1176.4,430 1175.8,440 1176.6,450 1177,460 1177,470 1178.1,480 1179.8,490 1180.9,500 1182.2,510 1182.8,520 1185.2,530 1186,540 1187,550 1187.7,559.1 1190,568.2 1189.6,577.3 1191.4,586.4 1192.1,595.5 1192.8,604.5 1195.3,613.6 1196.5,622.7 1197.3,631.8 1197.7,640.9 1199,650 1200.1,660 1201.5,670 1201.2,680 1203.2,690 1204,700 1203.4,709.1 1203.1,718.2 1203.1,727.3 1204.4,736.4 1203.6,745.5 1203.2,754.5 1202.8,763.6 1203.1,772.7 1203.6,781.8 1203.8,790.9 1203,800 1202.1,809.1 1202.3,818.2 1202,827.3 1203.3,836.4 1202.7,845.5 1202.2,854.5 1202.5,863.6 1202,872.7 1201.9,881.8 1202.4,890.9 1202,900 1201.3,909.4 1202.4,918.9 1201.4,928.3 1201.8,937.8 1201.6,947.2 1201.8,956.7 1202.6,966.1 1203,975.6 1202.2,985" fill="none" stroke="#3a2088" stroke-width="3" stroke-linejoin="round" stroke-linecap="round"/>
<polyline points="1063.9,134.3 1070.3,146.3 1076.9,158.3 1105.2,168.9 1133.8,179.6 1137.2,189.8 1141,200 1141,210 1141,220 1141.3,230 1141.7,240 1143.3,250 1143,260 1142.9,270 1142.8,280 1144.4,290 1144,300 1144,310 1144.3,319 1144.3,328 1145.9,337 1145.9,346 1146,355 1147.3,364.2 1146.9,373.3 1148.5,382.5 1148.6,391.7 1149.3,400.8 1150,410 1151.8,420 1152.6,430 1152.4,440 1153.3,450 1154.9,460 1156,470 1157,480 1157.3,490 1157.8,500 1158.5,510 1158.4,520 1158.9,530 1159.7,540 1160,550 1160,559.1 1161.3,568.2 1161.6,577.3 1162.2,586.4 1162.9,595.5 1163.4,604.5 1163,613.6 1163.3,622.7 1164.1,631.8 1164.2,640.9 1165,650 1165.6,660 1166.5,670 1168.2,680 1168.3,690 1170,700 1170.5,709.1 1171.6,718.2 1170.9,727.3 1172.3,736.4 1172,745.5 1173.4,754.5 1174.4,763.6 1173.7,772.7 1175.4,781.8 1176,790.9 1176,800 1176.8,809.1 1176.7,818.2 1178.7,827.3 1178.7,836.4 1179.2,845.5 1180.5,854.5 1180.6,863.6 1181.6,872.7 1181.6,881.8 1181.7,890.9 1183,900 1183.9,909.2 1183.4,918.3 1185.1,927.5 1185.3,936.7 1186.6,945.8 1186.6,955 1186.4,964.2 1188.4,973.3 1188.5,982.5 1188.1,991.7 1189.1,1000.8 1190,1010 1190.6,1019.2 1191.5,1028.3 1191.3,1037.5 1192.2,1046.7 1193,1055.8 1194.1,1065 1195,1074.2 1195.7,1083.3 1196.8,1092.5 1196.1,1101.7 1197.7,1110.8 1198,1120 1198,1129.4 1199.8,1138.7 1199.9,1148.1 1200.3,1157.4 1200,1166.8 1201.7,1176.1 1201.8,1185.5 1202.5,1194.9 1203,1204.2 1203.4,1213.6 1204,1222.9 1204.6,1232.3 1205.2,1241.6 1205,1251" fill="none" stroke="#3a2088" stroke-width="3" stroke-linejoin="round" stroke-linecap="round"/>
<polyline points="1019.3,134.3 1022.6,144.4 1025.7,154.5 1027.9,164.6 1030.3,174.7 1033.9,184.7 1036.1,194.8 1039.6,204.9 1042,215 1043.1,224 1044.9,233 1046.7,242 1046.8,251 1049,260 1053.9,270 1059.2,280 1064.3,290 1070.5,300 1075,310 1078.7,319 1083.7,328 1087.9,337 1092,346 1097,355 1100.6,364.2 1106,373.3 1109.3,382.5 1114.3,391.7 1117.6,400.8 1122,410 1123.1,420 1124.2,430 1125.3,440 1126.5,450 1129.1,460 1130,470 1131.7,480 1133,490 1133.7,500 1135.1,510 1135.8,520 1136.7,530 1138.6,540 1139,550 1140.6,559.1 1141.6,568.2 1143.8,577.3 1145.8,586.4 1147.1,595.5 1148.3,604.5 1150.2,613.6 1151,622.7 1153.2,631.8 1154.6,640.9 1156,650 1152.9,660 1151.9,670 1149.3,680 1146.9,690 1144,700 1144.7,709.1 1146.6,718.2 1147,727.3 1147.7,736.4 1150.1,745.5 1150.9,754.5 1151.3,763.6 1152.7,772.7 1153.3,781.8 1155.5,790.9 1156,800 1156,809.1 1157.1,818.2 1156.7,827.3 1157.2,836.4 1157,845.5 1156.9,854.5 1157.2,863.6 1157.7,872.7 1158.3,881.8 1158,890.9 1159,900 1159.5,909.2 1159.8,918.3 1160.4,927.5 1161.2,936.7 1161.6,945.8 1162.4,955 1163.2,964.2 1163.8,973.3 1163.5,982.5 1164.3,991.7 1164.7,1000.8 1166,1010 1166.6,1019.2 1167.1,1028.3 1167.5,1037.5 1168.2,1046.7 1168.4,1055.8 1169.3,1065 1170.2,1074.2 1171.2,1083.3 1171.2,1092.5 1172.1,1101.7 1171.7,1110.8 1173,1120 1174.1,1129.4 1174.4,1138.7 1175.2,1148.1 1176.3,1157.4 1176.9,1166.8 1177.1,1176.1 1177.8,1185.5 1179.4,1194.9 1179.8,1204.2 1180.9,1213.6 1180.8,1222.9 1182,1232.3 1182.5,1241.6 1183,1251" fill="none" stroke="#3a2088" stroke-width="3" stroke-linejoin="round" stroke-linecap="round"/>
<polyline points="1036,140 1038.1,149.4 1040,158.8 1041.2,168.1 1044,177.5 1045.1,186.9 1047,196.2 1049.5,205.6 1051,215 1051.8,224 1053.7,233 1053.9,242 1054.8,251 1056,260 1060.4,270 1066.8,280 1071.1,290 1076.7,300 1082,310 1086.9,319 1091.1,328 1096.5,337 1100.2,346 1105,355 1108.4,364.2 1111.7,373.3 1115.2,382.5 1119.1,391.7 1123.4,400.8 1127,410 1127.9,420 1130,430 1130.9,440 1133.5,450 1133.8,460 1136,470 1137.3,480 1138.4,490 1139.3,500 1139.4,510 1140.9,520 1140.7,530 1142.9,540 1143,550 1145.3,559.1 1146.4,568.2 1148.4,577.3 1149.4,586.4 1151.5,595.5 1152.1,604.5 1153.1,613.6 1154.9,622.7 1157.5,631.8 1159,640.9 1160,650 1159.6,660 1159.9,670 1160,680 1159,690 1159,700 1158.7,709.1 1160,718.2 1159.1,727.3 1160,736.4 1159.1,745.5 1160.3,754.5 1158.9,763.6 1159.5,772.7 1159.7,781.8 1159.2,790.9 1160,800 1161,809.1 1161.8,818.2 1161.5,827.3 1162.5,836.4 1162.3,845.5 1163,854.5 1164.1,863.6 1164.4,872.7 1164.3,881.8 1166.2,890.9 1166,900 1167.3,909.2 1167.2,918.3 1168.2,927.5 1167.7,936.7 1168.4,945.8 1169.2,955 1168.8,964.2 1169.3,973.3 1170.5,982.5 1170.5,991.7 1171.9,1000.8 1172,1010 1172.9,1019.2 1173.2,1028.3 1174,1037.5 1175,1046.7 1174.7,1055.8 1176.4,1065 1177.2,1074.2 1176.9,1083.3 1177.4,1092.5 1179.1,1101.7 1179.6,1110.8 1180,1120 1181.2,1129.4 1182.2,1138.7 1182.5,1148.1 1183.5,1157.4 1183.1,1166.8 1184.1,1176.1 1185.6,1185.5 1186.1,1194.9 1186.7,1204.2 1187,1213.6 1187.4,1222.9 1189.2,1232.3 1188.6,1241.6 1190,1251" fill="none" stroke="#3a2088" stroke-width="3" stroke-linejoin="round" stroke-linecap="round"/>
<polyline points="1086.4,135 1087,145 1087,155 1087.9,165 1089.2,175 1089.6,185 1089.3,195 1091,205 1091,215 1092,224 1091.1,233 1092.4,242 1092.4,251 1093,260 1093.9,270 1095.9,280 1098,290 1098.8,300 1101,310 1103.9,319 1107.7,328 1110.2,337 1114.4,346 1117,355 1119.8,364.2 1122.5,373.3 1124.3,382.5 1127,391.7 1130.5,400.8 1133,410 1134,420 1136,430 1138.1,440 1139.1,450 1140.4,460 1142,470 1142.7,480 1144.2,490 1145.7,500 1148.2,510 1149.3,520 1149.7,530 1150.9,540 1153,550 1154.8,559.1 1155.7,568.2 1156.1,577.3 1156.6,586.4 1158.1,595.5 1159.6,604.5 1159.6,613.6 1161.5,622.7 1162,631.8 1163.1,640.9 1164,650 1165.3,660 1164.4,670 1165.5,680 1165.8,690 1167,700 1166.3,709.1 1167.2,718.2 1165.7,727.3 1167,736.4 1165.9,745.5 1166.1,754.5 1165.7,763.6 1164.9,772.7 1165,781.8 1164.7,790.9 1165,800 1165.4,809.1 1165.5,818.2 1167,827.3 1167.1,836.4 1168.5,845.5 1168.9,854.5 1170,863.6 1170.8,872.7 1170.4,881.8 1171.6,890.9 1172,900 1173,909.2 1172.7,918.3 1173.7,927.5 1174.4,936.7 1175.1,945.8 1175.4,955 1175.5,964.2 1176,973.3 1176.3,982.5 1177.2,991.7 1178.3,1000.8 1178,1010 1178.1,1019.2 1180.1,1028.3 1181.1,1037.5 1181.5,1046.7 1181.8,1055.8 1183.1,1065 1185.1,1074.2 1185.7,1083.3 1186.5,1092.5 1187.9,1101.7 1188.7,1110.8 1189,1120 1188.4,1129.4 1189.3,1138.7 1190,1148.1 1190.3,1157.4 1190,1166.8 1189.6,1176.1 1190.7,1185.5 1191,1194.9 1190.8,1204.2 1190.4,1213.6 1190.9,1222.9 1191,1232.3 1191.8,1241.6 1192,1251" fill="none" stroke="#3a2088" stroke-width="3" stroke-linejoin="round" stroke-linecap="round"/>
<polyline points="1092.3,146 1092,155.9 1092.6,165.7 1092.5,175.6 1093,185.4 1094.1,195.3 1093,205.1 1094,215 1096.1,224 1097.5,233 1098,242 1099.7,251 1102,260 1104.7,270 1107.8,280 1109.7,290 1112.8,300 1115,310 1118.9,319 1122.6,328 1125.4,337 1128.4,346 1132,355 1133.4,364.2 1134.2,373.3 1135,382.5 1136.5,391.7 1136.9,400.8 1138,410 1141.4,420 1144.7,430 1148.1,440 1150.1,450 1154.4,460 1157,470 1157.7,480 1156.3,490 1156.6,500 1157,510 1156.9,520 1157.6,530 1156.3,540 1157,550 1157.2,559.1 1159.6,568.2 1160.3,577.3 1161,586.4 1161.7,595.5 1163.1,604.5 1164.6,613.6 1165.4,622.7 1166,631.8 1166.4,640.9 1168,650 1168.9,660 1170.3,670 1172,680 1173.4,690 1174,700 1174.3,709.1 1174.3,718.2 1174.3,727.3 1173.7,736.4 1173,745.5 1174.1,754.5 1173.3,763.6 1173.9,772.7 1173.4,781.8 1173.2,790.9 1173,800 1173.3,809.1 1173.1,818.2 1174.3,827.3 1173.5,836.4 1174.5,845.5 1174.1,854.5 1174.4,863.6 1175.4,872.7 1176.2,881.8 1176,890.9 1176,900 1176.6,909.2 1177.2,918.3 1178.7,927.5 1179.4,936.7 1180.1,945.8 1181.2,955 1180.9,964.2 1182.7,973.3 1182.6,982.5 1183.6,991.7 1183.5,1000.8 1185,1010 1185.8,1019.2 1186.9,1028.3 1186.7,1037.5 1187,1046.7 1188.4,1055.8 1189.4,1065 1189.3,1074.2 1189.9,1083.3 1190.4,1092.5 1191.7,1101.7 1192.6,1110.8 1193,1120 1193.1,1129.4 1194.2,1138.7 1193.9,1148.1 1194.8,1157.4 1194.7,1166.8 1194.2,1176.1 1195.5,1185.5 1194.7,1194.9 1196.1,1204.2 1196,1213.6 1195.5,1222.9 1196.1,1232.3 1196.5,1241.6 1197,1251" fill="none" stroke="#3a2088" stroke-width="3" stroke-linejoin="round" stroke-linecap="round"/>
<polyline points="1111.6,122.6 1111.7,131.8 1112,141.1 1112.5,150.3 1112.6,159.6 1111.8,168.8 1111.9,178 1113,187.3 1113,196.5 1113,205.8 1113,215 1113.8,224 1113.1,233 1112.7,242 1112.7,251 1113,260 1113.7,270 1116.3,280 1117.1,290 1118.6,300 1120,310 1122.6,319 1127.1,328 1129.5,337 1132.1,346 1136,355 1137.5,364.2 1138.8,373.3 1138.8,382.5 1140.9,391.7 1141.3,400.8 1143,410 1145.5,420 1149.7,430 1152.7,440 1154.3,450 1157.4,460 1161,470 1161.5,480 1161.7,490 1163.3,500 1162.9,510 1163.7,520 1165,530 1165.3,540 1166,550 1167,559.1 1167.1,568.2 1168.8,577.3 1169.2,586.4 1169.5,595.5 1170.6,604.5 1171.3,613.6 1171.8,622.7 1173.3,631.8 1173.7,640.9 1174,650 1175.9,660 1177.8,670 1178.7,680 1181.1,690 1182,700 1181.6,709.1 1181.5,718.2 1181.4,727.3 1180.8,736.4 1180.3,745.5 1180.4,754.5 1179.4,763.6 1179.9,772.7 1180.1,781.8 1179.3,790.9 1179,800 1179,809.1 1179.8,818.2 1180,827.3 1179.3,836.4 1180,845.5 1179.1,854.5 1179.3,863.6 1180.5,872.7 1180,881.8 1179.7,890.9 1180,900 1180.5,909.2 1182.7,918.3 1183.1,927.5 1184.4,936.7 1184.8,945.8 1186.4,955 1187.3,964.2 1187.5,973.3 1189.6,982.5 1190.5,991.7 1190.3,1000.8 1192,1010 1191.8,1019.2 1192.3,1028.3 1193.2,1037.5 1192.9,1046.7 1193.3,1055.8 1194.6,1065 1194,1074.2 1194,1083.3 1195.3,1092.5 1195.7,1101.7 1195.2,1110.8 1196,1120 1195.9,1129.4 1196.7,1138.7 1196.3,1148.1 1197.6,1157.4 1198.2,1166.8 1197.8,1176.1 1198.5,1185.5 1198.4,1194.9 1198.4,1204.2 1199.9,1213.6 1199.6,1222.9 1199.9,1232.3 1199.9,1241.6 1201,1251" fill="none" stroke="#3a2088" stroke-width="3" stroke-linejoin="round" stroke-linecap="round"/>
<polyline points="1129.2,134.3 1128.6,144.4 1129.7,154.5 1128.8,164.6 1129.4,174.7 1128.7,184.7 1129.5,194.8 1129.3,204.9 1129,215 1128.3,224 1129.7,233 1129.5,242 1128.8,251 1129,260 1129.3,270 1129.8,280 1130,290 1130.3,300 1130,310 1132.7,319 1134.7,328 1135.6,337 1137.2,346 1140,355 1141.8,364.2 1143.9,373.3 1146.9,382.5 1149.1,391.7 1151.6,400.8 1153,410 1155.6,420 1157.4,430 1159.8,440 1161.4,450 1162.8,460 1165,470 1166.1,480 1166.8,490 1166.6,500 1167.1,510 1167.6,520 1168.1,530 1169.7,540 1170,550 1172.2,559.1 1173.2,568.2 1174.2,577.3 1176.1,586.4 1176.7,595.5 1178,604.5 1178.8,613.6 1180.4,622.7 1182.6,631.8 1183.5,640.9 1185,650 1186.5,660 1185.8,670 1188,680 1188.7,690 1189,700 1189.1,709.1 1189,718.2 1189,727.3 1187.9,736.4 1188.4,745.5 1189.2,754.5 1188.4,763.6 1187.7,772.7 1188.1,781.8 1187.4,790.9 1188,800 1188.4,809.1 1187.9,818.2 1189,827.3 1189.1,836.4 1188.5,845.5 1188,854.5 1188.6,863.6 1189.2,872.7 1188.2,881.8 1188.5,890.9 1189,900 1189.5,909.2 1190.8,918.3 1190.5,927.5 1191.3,936.7 1192.9,945.8 1192.6,955 1194,964.2 1193.6,973.3 1195,982.5 1195.1,991.7 1196.4,1000.8 1197,1010 1197.1,1019.2 1197.5,1028.3 1199.4,1037.5 1199.7,1046.7 1199.9,1055.8 1199.8,1065 1201.1,1074.2 1200.9,1083.3 1202.8,1092.5 1202.8,1101.7 1202.8,1110.8 1204,1120 1203.8,1129.4 1204.3,1138.7 1204.2,1148.1 1203.4,1157.4 1203.5,1166.8 1202.9,1176.1 1203.4,1185.5 1202.8,1194.9 1203.4,1204.2 1202.8,1213.6 1201.8,1222.9 1202.1,1232.3 1202.7,1241.6 1202,1251" fill="none" stroke="#3a2088" stroke-width="3" stroke-linejoin="round" stroke-linecap="round"/>
<polyline points="1137.6,134.3 1137.9,144.4 1137.4,154.5 1137.2,164.6 1137.2,174.7 1136.9,184.7 1136.7,194.8 1137.1,204.9 1137,215 1137.5,224 1137.9,233 1137.5,242 1138.5,251 1138,260 1137.6,270 1139.2,280 1139.1,290 1139.4,300 1139,310 1139.6,319 1141.6,328 1143,337 1144.4,346 1145,355 1147.6,364.2 1148.6,373.3 1151.6,382.5 1153,391.7 1156.5,400.8 1158,410 1160.3,420 1161.6,430 1164.2,440 1164.7,450 1167.2,460 1169,470 1169.4,480 1171.4,490 1172.6,500 1173,510 1174.4,520 1174.3,530 1175.5,540 1177,550 1177.4,559.1 1179.1,568.2 1180.5,577.3 1182,586.4 1182.2,595.5 1183.6,604.5 1185,613.6 1185.3,622.7 1186.8,631.8 1187.6,640.9 1189,650 1190.4,660 1192.4,670 1193.7,680 1195.5,690 1197,700 1196.9,709.1 1197.2,718.2 1196.7,727.3 1196.5,736.4 1196,745.5 1196.2,754.5 1196.1,763.6 1194.9,772.7 1194.6,781.8 1194.4,790.9 1195,800 1195,809.1 1194.6,818.2 1194,827.3 1195.3,836.4 1194,845.5 1194.7,854.5 1195,863.6 1194.1,872.7 1194.4,881.8 1193.6,890.9 1194,900 1195.2,909.2 1196,918.3 1196.9,927.5 1197.7,936.7 1198.2,945.8 1200.2,955 1200.3,964.2 1201.4,973.3 1202.6,982.5 1203.5,991.7 1203.7,1000.8 1205,1010 1206.4,1019.2 1207.1,1028.3 1207.5,1037.5 1209.9,1046.7 1210.6,1055.8 1211.5,1065 1213.3,1074.2 1213.7,1083.3 1214.1,1092.5 1216.6,1101.7 1217.1,1110.8 1218,1120 1217.8,1129.4 1219,1138.7 1218,1148.1 1218.5,1157.4 1218.4,1166.8 1218.5,1176.1 1219.8,1185.5 1219.5,1194.9 1219,1204.2 1219.3,1213.6 1220.1,1222.9 1219.3,1232.3 1220.6,1241.6 1220,1251" fill="none" stroke="#3a2088" stroke-width="3" stroke-linejoin="round" stroke-linecap="round"/>
<polyline points="1141,157 1141.1,166.7 1141.5,176.3 1142.2,186 1141.6,195.7 1141.4,205.3 1142,215 1141.8,224 1142.7,233 1142.2,242 1142.6,251 1142,260 1142,270 1142.7,280 1143.3,290 1142.2,300 1143,310 1144.9,319 1146.4,328 1147.9,337 1148,346 1150,355 1151.8,364.2 1155.3,373.3 1156.9,382.5 1159,391.7 1161.9,400.8 1164,410 1165.2,420 1166.8,430 1168.3,440 1169.5,450 1172,460 1173,470 1174.4,480 1174.7,490 1175.9,500 1176.7,510 1178.5,520 1180,530 1180.9,540 1182,550 1182.4,559.1 1184,568.2 1185.1,577.3 1184.9,586.4 1186,595.5 1187.3,604.5 1188.2,613.6 1189.3,622.7 1190.3,631.8 1190.9,640.9 1192,650 1195.7,660 1199.2,670 1202.1,680 1205.9,690 1210,700 1209.4,709.1 1209.4,718.2 1208.7,727.3 1209.5,736.4 1208.1,745.5 1207.6,754.5 1208.7,763.6 1207.3,772.7 1207.2,781.8 1207.2,790.9 1207,800 1207.4,809.1 1208.1,818.2 1208.9,827.3 1208.8,836.4 1208.9,845.5 1210.3,854.5 1210.8,863.6 1211,872.7 1211.2,881.8 1212.2,890.9 1213,900 1212.7,909.2 1213.3,918.3 1214,927.5 1215,936.7 1215.1,945.8 1215.2,955 1216.1,964.2 1216.7,973.3 1217.5,982.5 1217.2,991.7 1217,1000.8 1218,1010 1219.2,1019.2 1219.7,1028.3 1219.2,1037.5 1220.1,1046.7 1221.3,1055.8 1221.2,1065 1221.5,1074.2 1223.1,1083.3 1223.8,1092.5 1223.1,1101.7 1225.1,1110.8 1225,1120 1225.3,1129.4 1225.9,1138.7 1226.2,1148.1 1226.8,1157.4 1228.8,1166.8 1228.3,1176.1 1229.1,1185.5 1229.9,1194.9 1231.1,1204.2 1231.6,1213.6 1231.8,1222.9 1232,1232.3 1234,1241.6 1234,1251" fill="none" stroke="#3a2088" stroke-width="3" stroke-linejoin="round" stroke-linecap="round"/>
<polyline points="1707.7,154 1702.2,163.3 1694,174.2 1699.7,184.4 1695.2,198.4 1696.2,209.2 1707.8,219.2 1703.6,228.8 1704.1,242.1 1705.1,251.5 1710,264.1 1704.1,277.1 1707.7,289.6 1708.7,303.7 1712.2,313.6 1715.6,324.9 1722.1,337.3 1729.1,349.4 1731,362.2 1730.4,374.3 1738.8,389.1 1746,403.8 1741.6,413.8 1737.7,425.7 1743.3,439.5 1745.2,449.9 1749.7,460.8 1755.1,473 1753.4,484.5 1769,494.3 1761.3,506.2 1767,520.3 1766.6,532.6 1763.7,544.3 1769.1,554.7 1773,566.2 1753.7,576.4 1757,588.9 1759.8,601.3 1746.8,611.2 1751.3,624.2 1753,633.5 1741.8,647.3 1742.1,659.8 1743.7,670.8 1737.4,680.1 1735.1,689.8 1732.4,701.6 1727,715 1735.3,725.8 1723.7,736.1 1721.2,745.4 1727.3,759.1 1721.6,770.6 1719.4,784.6 1712.9,795.6 1718,808.6 1719.8,819.9 1718.4,829.8 1717.5,838.9 1710.9,852.5 1709.6,865.9 1701.9,880.2 1706.9,890.7 1708.4,905.2 1707.5,919.3 1708.8,931 1706,942.1 1705.4,955.5 1704.2,966.6 1701.1,979.6 1696.9,991.7 1698.5,1001.2 1701.8,1014.5 1696.4,1024.5 1696.1,1038.9 1695,1050.3 1700.8,1062.2 1704.9,1075.4 1698.5,1085.1 1701,1096.9 1702.1,1110.2 1700.5,1120.2 1694.6,1134.3 1698.2,1145.1 1694,1158.2 1695.7,1167.7 1700.4,1178.9 1696.7,1189.4 1696.3,1199 1704,1212 1701.7,1223.8 1699.4,1238 1697.6,1248.5 1697.6,1255" fill="none" stroke="#2e8a2a" stroke-width="3" stroke-linejoin="round" stroke-linecap="round"/>
<polyline points="1701.4,165 1703.5,178.8 1700.3,192.6 1706.6,202.9 1708.8,215.7 1712,225.3 1721,236 1726,248.6 1724.1,263.4 1721.5,275.8 1737.7,288.8 1737.9,302.9 1736.1,312.5 1738.6,326.7 1746.8,341.6 1737.3,353.7 1742.9,365.9 1748.2,377.9 1742.9,389.8 1743.7,404.5 1750.7,415.5 1758.5,424.5 1757.3,433.8 1763.3,447.6 1775.8,459 1781.5,468.8 1786.6,480 1775.4,494.5 1769.1,507.5 1772.4,519.7 1781.2,529.9 1776.7,539.4 1763.8,549 1763.4,561 1753.9,571.1 1744.5,584.8 1744.5,595.6 1740.5,608.6 1730.3,620.7 1736.7,632.8 1732.2,646.2 1731,655.7 1733.3,668.5 1727.9,683.3 1731,693.3 1726.3,702.5 1720.1,715.2 1735.8,728.9 1734.3,739.3 1729.8,752.2 1724.4,761.8 1724.3,771.2 1719.8,780.3 1714.8,791.3 1718.3,804.5 1722.7,815.8 1715.2,827.9 1715.6,840.3 1715.1,849.6 1710.8,862.8 1712.3,877.3 1707.4,891.3 1708.3,906.2 1709.3,920.8 1705.5,930.3 1709.8,941.1 1700.9,953.5 1702.7,966.3 1699.5,980.5 1703.5,994.4 1699.8,1008.2 1702.9,1017.6 1706.4,1027.6 1703.6,1040.9 1703.8,1053.7 1700.7,1065.1 1695.4,1075.6 1701.8,1089.5 1706.9,1101.7 1706.2,1114.8 1706.1,1127.9 1708.8,1142.2 1709.7,1152 1701.8,1166.7 1703.5,1176.2 1707.1,1188 1708.7,1202.7 1700.1,1213.8 1702,1227.4 1698.9,1237.7 1700.6,1252.2 1700.6,1255" fill="none" stroke="#2e8a2a" stroke-width="3" stroke-linejoin="round" stroke-linecap="round"/>
<polyline points="1717.1,154 1710.6,164.9 1719.2,179.3 1727.4,193.9 1732.1,206.3 1741.9,220.9 1735.3,233.1 1737.3,242.4 1745.9,254.6 1741.8,268.3 1738.1,277.8 1735.5,289.5 1736.9,302.6 1748.2,313.8 1753.1,323.7 1750.8,333.5 1764.1,347.4 1760.4,361 1764.5,372.7 1764.6,387 1764.1,401.5 1765.6,411.7 1771.5,425.9 1784.3,440.7 1782.1,454.8 1787.2,468.1 1782.8,481 1783.5,491.6 1784.7,501.2 1783.2,510.8 1790.6,520 1799.7,529.6 1788.7,540.9 1785.8,555.1 1780.1,564.4 1785.8,573.9 1774.3,583.5 1766.1,598.3 1772,611.7 1781.4,623.3 1768.3,637.7 1764.8,647.2 1761.2,661 1754.5,674.8 1750.7,689 1746,703.4 1737.6,712.6 1739.5,722.9 1749.8,733.5 1754,745.6 1740.5,756.4 1733.2,770.7 1738.7,780.5 1734.7,794.1 1726.7,804.7 1727,818.9 1726.7,832 1722.9,846.5 1716.3,856.5 1713.4,868 1719.2,880.2 1717.8,891.6 1725.4,900.6 1719.3,911.5 1719.7,922.1 1717.7,933.2 1711.3,946.2 1704.2,959.8 1711.2,971.3 1709.1,984.2 1707.7,997.6 1706.4,1011.4 1706.2,1021 1710.2,1032.7 1714.5,1043.1 1713.1,1055 1714.4,1069.7 1716.4,1080.7 1708.6,1092 1710.3,1101.9 1710.7,1115.3 1714,1125.9 1708.5,1140.7 1705.7,1154.9 1710.7,1165.4 1711.2,1174.8 1708.5,1187 1700.5,1198.8 1699.3,1213 1702.8,1225.1 1701.3,1237.7 1700.2,1250.6 1700.2,1255" fill="none" stroke="#2e8a2a" stroke-width="3" stroke-linejoin="round" stroke-linecap="round"/>
<polyline points="1721.6,165 1728.8,176.4 1721.6,186.9 1717.6,196 1726.8,205.8 1725.1,219.2 1737.3,232.4 1735.3,244 1744.5,257.6 1730.9,268.7 1732.7,280.4 1733.3,293.8 1740,306.8 1743.1,316.4 1745.9,331 1745,342 1742.5,352.7 1741.3,363.3 1748.5,376.4 1753.2,389.5 1770,403 1778,417.1 1772.7,427.9 1779,437.6 1788.4,448.9 1776.9,459.5 1788.3,470.6 1797,480.8 1790.8,492.1 1792,505.6 1800.9,519.3 1800.8,528.7 1800.4,539.7 1815,551.8 1806.6,565.7 1813.3,578.1 1808.8,590.3 1798.1,604.9 1794,614.5 1792.8,624.3 1778.6,636.7 1786.5,650 1768.5,662.3 1771.3,677.2 1769.4,688.9 1762.8,698.2 1752.4,710.9 1757.5,720.3 1746.7,730.3 1751.7,742.7 1747.3,751.9 1743.5,764.5 1738.4,776 1738.2,786.9 1739.4,800.9 1737,810.9 1741.7,823.4 1738.2,832.5 1729.3,842.7 1733.3,857.5 1732.3,869.2 1728.4,883.8 1723.6,898.3 1722,912.2 1731.5,925 1727.7,939 1723,953.4 1727,963 1727.2,972.8 1725.8,982.8 1717.5,997.4 1716.6,1009.4 1724.6,1019 1719.7,1030.7 1722.5,1045.3 1722.7,1058.1 1724.2,1070.1 1716.4,1081.5 1721,1093.7 1721.7,1106.4 1712.9,1120.3 1712.5,1134.5 1711.4,1147.6 1715.7,1157.4 1714.3,1168.1 1708.9,1180.6 1705.2,1191 1708.2,1200.6 1711.2,1215.3 1703.1,1226.6 1700.8,1240.1 1699.9,1253.8 1699.9,1255" fill="none" stroke="#2e8a2a" stroke-width="3" stroke-linejoin="round" stroke-linecap="round"/>
<polyline points="1731.2,154 1728.3,168.8 1736.8,182.8 1748.9,196.8 1749.4,207.9 1752.4,220 1768.4,229.5 1771.9,242.7 1767,251.9 1763.6,265.9 1777,279.2 1785.7,290.1 1787.8,300.3 1776.8,314.8 1772.7,327.6 1777.2,338.6 1769.2,352.2 1777.5,367.1 1780.8,380.6 1792.2,394.6 1782,405 1783.8,414.4 1789.3,425 1787.6,435.9 1803.5,447.6 1810.9,458.5 1813.8,473.5 1811.2,486.7 1809.2,500 1807.1,512.2 1823.1,526.6 1816.9,541.2 1814.2,550.3 1811.3,562.4 1819.9,577.3 1818.4,587.3 1806.6,598.6 1796.5,610.2 1800.6,624.8 1786.1,636.1 1780.2,649.1 1792.1,659 1790.5,671.8 1776,684.1 1784.2,699 1785.2,709.8 1769.6,719.4 1767.5,733.5 1764.2,743.8 1749.1,753.9 1745.7,764 1749.6,774.9 1745.8,785.7 1747.5,799.4 1749.1,810.7 1750.2,821.9 1738.1,836.3 1742.7,846.8 1742.2,861.6 1732.9,875.8 1740.4,888.8 1737,903.8 1738.8,916.4 1734.4,931.3 1727,942.4 1730.2,952.5 1731.6,963.4 1726.8,975 1719,990 1718,1000.2 1718.2,1010.9 1719.7,1019.9 1723.6,1032 1719.9,1046 1723,1057.9 1726.3,1068.8 1720.6,1078 1717.1,1087.8 1725.8,1101.1 1722.9,1112.3 1717.5,1124.5 1716.5,1135.2 1717.4,1149.3 1718.6,1163.5 1718.6,1173.2 1723.6,1187.4 1714.7,1197.7 1716.4,1209.1 1716.3,1219 1712.6,1229.4 1714.2,1243.9 1714.2,1255" fill="none" stroke="#2e8a2a" stroke-width="3" stroke-linejoin="round" stroke-linecap="round"/>
<polyline points="1748.5,175 1753.6,184.4 1761.2,196.2 1757.3,209.7 1761.1,219.3 1769.2,230.3 1772.5,240.5 1780.8,252.9 1779.8,266.9 1777.5,281.5 1780.1,294.6 1782.8,307 1781.7,321.4 1781,335.4 1790.4,348.9 1787.8,361.7 1783.2,371 1777.4,383.4 1788.6,395.6 1788.1,407.4 1788.4,416.8 1788.8,428.5 1790,441.8 1796.5,452.9 1812.5,465.7 1819.1,480.6 1810.9,492.3 1822.9,507 1816.2,521 1829.2,531.1 1824.1,541.7 1833.8,551.5 1831.8,566.3 1825.3,579.5 1815.1,590.2 1815.6,604.8 1822.6,614 1816.6,628.6 1823.1,640.3 1822.5,650.8 1816.4,660.8 1803.4,670.9 1800.2,680.5 1801.8,692.5 1799.9,702 1796.7,711.9 1787.4,721.9 1782.3,734 1776.5,746.6 1763,756.7 1759.3,766 1763.6,778.1 1757.2,787.3 1754,800.5 1757.2,814.8 1754.8,829 1754.8,838.5 1751.9,847.5 1743.6,857.8 1751,869.6 1749.6,879 1741.1,891.5 1739.6,901.6 1744,913 1740.2,927.4 1736.5,937.2 1743.9,947.7 1739.8,960.7 1744.2,973.1 1737.7,987.6 1736.3,999.2 1734.4,1013.6 1734.8,1028.1 1735.2,1040.2 1732.8,1051 1725.7,1061.4 1728.3,1073.8 1731,1083.4 1727,1093.4 1727.9,1103.4 1727.8,1113.6 1730.4,1128.3 1731.8,1139.8 1729.1,1154.5 1723.8,1165.5 1727.3,1179.1 1724.9,1190.2 1725,1199.9 1722.4,1210.1 1721.3,1223.2 1720,1235.7 1718.6,1248.9 1718.6,1255" fill="none" stroke="#2e8a2a" stroke-width="3" stroke-linejoin="round" stroke-linecap="round"/>
<polyline points="1740.9,154 1756,164.8 1747.2,178.6 1757.5,192.7 1760.5,203.2 1766,213.4 1783.7,223.5 1781.7,237.7 1786.3,252 1804.6,265.1 1801.2,274.6 1805.9,285.4 1799.3,295.3 1803.6,307.7 1797.5,318.8 1806.6,328.6 1807.6,342.3 1810.2,353.1 1811.3,365.1 1815.5,376.7 1820.2,390.8 1812.6,400.8 1800.3,411.6 1815.3,424.3 1816.3,435 1812.4,448.3 1824.7,457.8 1815.8,468.8 1825.2,478.6 1821.6,492.2 1832,506 1829.6,516.9 1820.1,529.9 1820.5,543.3 1824.6,553.7 1823.8,568 1815.3,578 1822.7,588.3 1820.7,597.8 1828.5,609.6 1835.2,622.5 1831.3,636.3 1840.7,648.9 1835,660.8 1823.8,673.6 1823.1,683.1 1804.8,696.1 1815.6,707.8 1802.5,719 1800.1,733.2 1797.1,742.9 1779.5,753.2 1765.3,764.6 1768.9,777.9 1762.8,789.3 1764.3,802.5 1755.7,817 1760,826.7 1748.1,840.6 1745.7,850.2 1749.2,864.4 1741.1,877.2 1746.2,892.1 1746.8,902.6 1746.8,914.5 1748.6,925.6 1736.4,940.3 1733.5,951 1735.9,960.7 1729.6,970.3 1735.4,985.2 1738.1,996.7 1728.9,1009.6 1733,1022.1 1734.4,1033 1732,1046.7 1732.5,1060.9 1730.4,1070 1728.8,1080.6 1726.8,1092.2 1730.4,1104.3 1727.8,1113.4 1725.2,1125.3 1730.5,1137.4 1732.1,1148.9 1725.1,1159.7 1730.9,1169.4 1730.3,1180.5 1729.5,1193.9 1723.9,1206.7 1717.6,1220.8 1712.9,1233.1 1709,1246.8 1709,1255" fill="none" stroke="#2e8a2a" stroke-width="3" stroke-linejoin="round" stroke-linecap="round"/>
<polyline points="1767.7,200 1775.7,210 1784.3,219.9 1790.8,231.3 1807.5,245 1812.5,259.9 1821.4,274.7 1824,287.6 1818,299.5 1810.8,309.6 1820.1,321.4 1827.3,333.3 1826.2,343.9 1812.3,355.6 1816.2,369 1824.5,380.8 1829.3,395.6 1827.4,405.5 1819.9,415.1 1825.6,429.3 1835.9,440.3 1833.8,451.4 1832,465.7 1840.6,476.3 1850.2,490 1851.8,500.9 1853.7,510.2 1852.3,524.4 1858.5,537.8 1868.2,551.1 1867.9,564.3 1861.3,576.7 1869.5,590.3 1852.7,604.1 1849.7,616.2 1852,629 1857.3,641.3 1847.6,652.3 1836.8,662.4 1841.4,671.5 1851.4,681.7 1842.5,696.5 1828.8,707 1813.7,720.9 1802.9,732.6 1805.1,745.8 1790.7,760.1 1782.1,773.6 1778.9,786.6 1777.3,795.9 1769,806.1 1765.8,817.2 1763.9,831.5 1761.3,841.8 1758,854.1 1758.3,865.7 1750.2,879 1752,888.9 1757.8,901.6 1754.5,914.2 1749.8,924.5 1748,939.4 1741.4,953.3 1737.6,966.5 1741.4,976.2 1741.6,985.9 1746.4,997.4 1736.4,1010.4 1733.2,1019.9 1737,1030 1740.9,1040.4 1739.1,1052.2 1733.1,1061.9 1727.5,1074.2 1730.9,1084.4 1729.6,1094.7 1729.9,1109.6 1738,1123.5 1732.5,1137.5 1731.2,1151.8 1736.9,1164.8 1728.8,1179.6 1728.8,1189.7 1724.5,1200.5 1721.7,1212 1721.4,1225 1719.9,1235.4 1718.6,1245.1 1718.6,1255" fill="none" stroke="#2e8a2a" stroke-width="3" stroke-linejoin="round" stroke-linecap="round"/>
<polyline points="1845,488 1930.8,499.4 1971,504.5 2003,517 1974.5,523.8 1940.8,529.7 1873.6,540.6 1860,550" fill="none" stroke="#2e8a2a" stroke-width="3" stroke-linejoin="round" stroke-linecap="round"/>
<polyline points="1855,505 1866.9,508.7 1888.7,515.4 1927.4,517.1 1987.9,523.8 2021.5,528 2048.4,539.7 1996.3,550.7 1940.8,561.6 1907.2,574.2 1880.3,586 1850,597.7" fill="none" stroke="#2e8a2a" stroke-width="3" stroke-linejoin="round" stroke-linecap="round"/>
<polyline points="1870,570 1895.5,574.2 1875,580" fill="none" stroke="#2e8a2a" stroke-width="3" stroke-linejoin="round" stroke-linecap="round"/>
<polyline points="1877,590 1903.9,596.9 1880,602" fill="none" stroke="#2e8a2a" stroke-width="3" stroke-linejoin="round" stroke-linecap="round"/>
<polyline points="1880,580 1915.6,585.1 2008,591 2119,596 2008,602 1910.6,607 1877,607.8 1860,615" fill="none" stroke="#2e8a2a" stroke-width="3" stroke-linejoin="round" stroke-linecap="round"/>
<polyline points="1960,545 1986.2,554 1998,561.6 2078.7,584.3 2196.3,607.8 2226.6,618.7 2211.4,631.3 2082,652.4 2036.6,665 2037.5,673.4 1996.3,686.8 1992.9,699.4 1887,708.7 1883.7,720.1 1860,740" fill="none" stroke="#2e8a2a" stroke-width="3" stroke-linejoin="round" stroke-linecap="round"/>
<polyline points="1900,612 1962.7,619.6 2024.9,617.9 2082,630.5 1961,641.4 1951,665 2051.8,675.9 1845,693.5 1820,700" fill="none" stroke="#2e8a2a" stroke-width="3" stroke-linejoin="round" stroke-linecap="round"/>
<polyline points="1860,670 1885.4,675.9 1850,685" fill="none" stroke="#2e8a2a" stroke-width="3" stroke-linejoin="round" stroke-linecap="round"/>
<polyline points="1840,625 1870,630 1900,640 1880,655" fill="none" stroke="#2e8a2a" stroke-width="3" stroke-linejoin="round" stroke-linecap="round"/>
<polyline points="1948.3,164.9 1942.3,177.9 1937.2,191 1935.3,200.7 1929,212.4 1923.6,224.1 1919,238.7 1913.8,253.3 1911,265 1907.5,276.6 1904.1,288.3 1900.2,307.8 1894.4,321.4 1889.3,336 1884.6,350.6 1881.3,363.6 1879.9,376.5 1876.9,389.5 1874,400 1871.9,410.3 1870.4,420.6 1869,430.8 1867.8,441.1 1866,451.4 1865.2,461.6 1862.9,471.9 1861.6,482.2 1861.8,492.5 1861.8,502.7 1861.6,513 1860,523.3 1858.6,533.5 1857.5,543.8 1855.3,554.1 1852.8,564.3 1851.4,574.6 1849.3,584.9 1847.7,595.2 1847.3,605.5 1846.7,615.7 1845.2,626 1845.2,636.3 1844.2,646.5 1843.5,656.8 1843.1,667.1 1843.3,677.7 1843.7,688.3 1844.2,698.8 1843.5,709.4 1844.2,720 1844.4,730 1844.2,740 1843.2,750 1843.4,760 1842.7,770 1842.8,780 1842.8,790 1842,800 1841.6,810 1841.6,820 1841.8,830 1841.8,840 1841.7,850 1841.4,860 1840.8,870 1841.3,880 1841.3,890 1841,900 1840.5,910 1840.3,920 1841.3,930 1841.1,940 1840.4,950 1839.7,960 1839.7,970 1840.6,980 1840.7,990 1840,1000 1839.7,1010 1840.3,1020 1840.1,1030 1840,1040 1840.7,1050 1840.2,1060 1840.2,1070 1840.3,1080 1840.4,1090 1840,1100 1839.7,1110.3 1839.9,1120.7 1839.7,1131 1840.8,1141.3 1840.7,1151.7 1840.5,1162 1839.7,1172.3 1840.9,1182.7 1840.4,1193 1840.7,1203.3 1840.8,1213.7 1840,1224 1841.3,1234.3 1840.6,1244.7 1840.8,1255" fill="none" stroke="#e62200" stroke-width="3" stroke-linejoin="round" stroke-linecap="round"/>
<polyline points="2053.3,153 2038.7,167.6 2025,175.4 2009.2,183.2 1982,198.8 1968.4,214.3 1962.5,233.8 1966.4,245.5 1950.8,264.9 1948.9,272.7 1952.8,288.3 1960.6,301.9 1943,311.6 1933.3,323.3 1933.3,335 1941.1,347.7 1919.7,356.4 1915.8,375.9 1921.7,392.4 1913.9,401.2 1900.7,420 1897.6,430.5 1893.8,440.9 1890.4,451.4 1882.2,467.8 1879.6,480.1 1878.1,492.5 1875.1,502.8 1871.9,513 1869.5,523.3 1867.8,533.5 1865.7,543.8 1863.8,554.1 1860.7,564.3 1857.4,574.6 1855.5,584.9 1853.5,595.2 1853,605.5 1850.4,615.7 1849.3,626 1848.6,636.3 1847.7,646.5 1847.6,656.8 1847.3,667.1 1847.1,677.7 1848,688.3 1847.9,698.8 1846.8,709.4 1847.3,720 1847.5,730 1846.6,740 1846.9,750 1846.7,760 1846.6,770 1846.4,780 1846.1,790 1846,800 1845.8,810 1845.6,820 1845.3,830 1845.2,840 1844.8,850 1845.6,860 1845.9,870 1845.9,880 1845.4,890 1845,900 1845.4,910 1845.5,920 1845.7,930 1845,940 1845.5,950 1845.5,960 1845.1,970 1846.4,980 1846.2,990 1846,1000 1846.3,1010 1846.2,1020 1845.5,1030 1846.7,1040 1845.4,1050 1846.6,1060 1845.7,1070 1846,1080 1846.6,1090 1846,1100 1845.8,1110.3 1846.6,1120.7 1846.8,1131 1845.8,1141.3 1846.8,1151.7 1846.8,1162 1846.8,1172.3 1846.2,1182.7 1846.1,1193 1846.6,1203.3 1845.6,1213.7 1846,1224 1845.9,1234.3 1847,1244.7 1846.4,1255" fill="none" stroke="#e62200" stroke-width="3" stroke-linejoin="round" stroke-linecap="round"/>
<polyline points="2029.9,153 2030,163.5 2029.8,173.9 2028.6,184.4 2028.9,194.9 2025,210.4 2026,226 2017.3,243.5 2015.3,255.2 1999.7,268.8 1997.5,280.5 1993.6,290.2 1980,301.9 1976.1,311.6 1970.3,331.1 1968.9,345.7 1966.4,360.3 1958.6,379.8 1951.7,389.9 1943.8,400 1933.6,416.4 1926.9,427.7 1919.2,439 1919.2,451.4 1911,467.8 1902.7,482.2 1894.5,492.5 1888.6,502.8 1882.2,513 1878.8,523.3 1874,533.6 1872.4,543.9 1870.4,554.1 1867.8,564.4 1866.1,574.7 1864.1,585 1863.8,595.2 1861.6,605.5 1860.9,615.8 1860.2,626 1859,636.3 1857.5,646.6 1857.7,656.9 1856.8,667.2 1855.4,677.4 1855.5,687.7 1856.5,704.1 1854.7,716.1 1852.1,728 1850,740 1849.9,752.3 1848.3,764.5 1848.3,776.8 1870.8,788 1893,799.2 1884.6,810.4 1876.3,821.5 1868.8,832.7 1867.1,845.8 1865,858.8 1860.9,873.7 1855.7,888.6 1857.6,903.5 1872,914.6 1887.4,925.8 1900.4,940.7 1913.5,955.6 1927.2,968 1940.9,980.5 1954.4,992.9 1940.1,1004 1924.6,1015.2 1932.1,1026.4 1928.4,1037.5 1906,1048.7 1902.3,1056.2 1898,1069.2 1894.8,1082.3 1872.5,1093.4 1870.6,1104.6 1875.3,1115.8 1880,1127 1882,1145 1875.5,1157.5 1870,1170 1868.4,1180 1866.3,1190 1864.2,1200 1862,1210 1860,1221.2 1858.9,1232.5 1857.6,1243.8 1856,1255" fill="none" stroke="#e62200" stroke-width="3" stroke-linejoin="round" stroke-linecap="round"/>
<polyline points="2064.9,164.7 2064.3,177.1 2064.4,189.5 2065.6,201.9 2064.9,214.3 2064,231.8 2056.2,243.5 2047.1,254.8 2038.7,266 2034.8,278 2031.6,289.9 2028.9,301.9 2019.2,321.4 2009.5,340.9 2001.6,355.4 1993.6,370 1976.1,379.8 1974.2,389.5 1962.5,399.2 1946.9,409 1937.2,420 1920,432 1894.5,441.1 1892.3,451.4 1890.4,461.6 1888.7,471.9 1886.3,482.2 1882,492.4 1878.1,502.7 1874.5,513 1871.9,523.3 1869.5,533.6 1865.9,543.8 1863.7,554.1 1861.7,564.4 1860,574.6 1857.5,584.9 1856.1,595.2 1855,605.5 1854.3,615.7 1853.4,626 1852.4,636.3 1852.6,646.5 1852,656.8 1851.4,667.1 1851.9,677.7 1850.8,688.3 1851.4,698.8 1850.9,709.4 1851.4,720 1852.1,730 1851.7,740 1851.5,750 1851.9,760 1851.8,770 1851.6,780 1851.7,790 1852,800 1851.7,810 1852.8,820 1852.3,830 1851.7,840 1852.8,850 1852.1,860 1853,870 1853.1,880 1852.6,890 1853,900 1853.4,910 1852.7,920 1853.2,930 1853.2,940 1853.3,950 1853.8,960 1853.5,970 1853.3,980 1853.9,990 1853.9,1000 1853.9,1010 1853.8,1020 1853.8,1030 1853.7,1040 1854.5,1050 1854.6,1060 1854,1070 1854.1,1080 1854.4,1090 1854,1100 1853.5,1110.3 1853.9,1120.7 1853.3,1131 1854.1,1141.3 1853.7,1151.7 1854.5,1162 1853.8,1172.3 1854.4,1182.7 1854.2,1193 1854.1,1203.3 1854.5,1213.7 1854.5,1224 1854,1234.3 1853.3,1244.7 1853.9,1255" fill="none" stroke="#e62200" stroke-width="3" stroke-linejoin="round" stroke-linecap="round"/>
<polyline points="2102.9,164.7 2104.7,174.8 2105.3,184.8 2106.8,194.9 2106.8,212.4 2105.2,227 2102.9,241.6 2083.4,257.1 2077.6,268.8 2083.4,278.6 2076.3,290.2 2069.8,301.9 2067.9,313.6 2054.2,333 2051.1,344.7 2048.4,356.4 2025,370 2009.2,375.9 1987.8,393.4 1997.5,403.1 1964.4,408.2 1947.9,416.4 1933.6,422.6 1931.5,441.1 1943.8,451.4 1943.8,461.6 1927.4,467.8 1915.1,474 1900.7,482.2 1896.1,492.4 1890.4,502.7 1886.1,513 1882.2,523.3 1880.7,533.5 1878.1,543.8 1875.6,554.1 1874,564.4 1872.8,574.7 1871.4,585 1870.5,595.2 1869.9,605.5 1869.1,615.8 1868,626 1866.6,636.3 1865.7,646.6 1864.3,656.9 1864.3,667.2 1862.4,677.4 1861.6,687.7 1861.1,698.5 1860.9,709.2 1859.6,720 1860.1,730 1859.2,740 1859.1,750 1858.6,760 1858.4,770 1858.1,780 1858.4,790 1858,800 1857.4,810 1858.5,820 1857.9,830 1856.9,840 1857.7,850 1857.6,860 1857.5,870 1856.9,880 1857.2,890 1857,900 1856.7,910 1857.4,920 1857,930 1857.7,940 1857.7,950 1857.9,960 1858.4,970 1858.3,980 1858.2,990 1858,1000 1857.7,1010 1858.2,1020 1858.6,1030 1858.4,1040 1859.2,1050 1858.2,1060 1858.6,1070 1859,1080 1858.4,1090 1859,1100 1858.5,1110.3 1859.5,1120.7 1858.9,1131 1858.9,1141.3 1858.7,1151.7 1858.5,1162 1859.1,1172.3 1859.7,1182.7 1859.8,1193 1858.8,1203.3 1859.2,1213.7 1858.8,1224 1860.1,1234.3 1859.4,1244.7 1859.5,1255" fill="none" stroke="#e62200" stroke-width="3" stroke-linejoin="round" stroke-linecap="round"/>
<polyline points="2123.3,164.7 2119.4,175.4 2087.3,189 2064,194.9 2038.7,200.7 2020,215 2010.4,227.5 2000,240 1994.3,250 1989.7,260 1985,270 1981.6,280 1978.1,290 1975,300 1973.3,310 1970.6,320 1968,330 1966.9,340 1965.5,350 1963.4,360 1962,370 1961,380.6 1961.7,391.1 1960.7,401.7 1960.3,412.3 1956.2,430.8 1953.8,441.1 1952,451.4 1949.5,464.8 1947.9,478.1 1943.8,486.3 1927.4,498.6 1919.2,506.8 1915.1,519.2 1913.6,531.5 1911,543.8 1914.3,554.1 1917.1,564.4 1917,574.6 1917.1,584.9 1914.1,595.2 1911,605.5 1907.9,615.8 1904.8,626 1899.6,636.3 1894.5,646.6 1886.3,656.8 1884.8,667.1 1883.3,677.4 1882.2,687.7 1880.7,698.5 1878.9,709.2 1878.1,720 1875.6,731.5 1872,743 1868.8,754.5 1868.3,765.1 1867.9,775.8 1866.5,786.4 1867.3,797.1 1865.7,807.7 1866.1,818.4 1865,829 1865.2,839.6 1865.2,850.3 1864.6,860.9 1865.3,871.6 1865.4,882.2 1864.5,892.9 1865,903.5 1864.5,914.1 1865.1,924.8 1863.9,935.4 1864.6,946 1863.2,956.7 1862.9,967.3 1863.1,978 1862.7,988.6 1862.9,999.2 1863,1009.9 1861.8,1020.5 1862.3,1031.1 1861.9,1041.8 1861.3,1052.4 1863.3,1064.8 1865.7,1077.3 1868.8,1089.7 1873.4,1102.1 1878.3,1114.6 1883.7,1127 1884.7,1137.7 1885.4,1148.3 1885.6,1159 1886,1169.7 1886.2,1180.3 1887.7,1191 1888,1201.7 1887.9,1212.3 1889.9,1223 1890.3,1233.7 1889.8,1244.3 1891.1,1255" fill="none" stroke="#e62200" stroke-width="3" stroke-linejoin="round" stroke-linecap="round"/>
<polyline points="2038.7,153 2037.9,164.2 2036.7,175.4 2035.7,194.9 2040.6,210.4 2039.6,226 2040.6,239.7 2040.6,253.3 2038.7,268.8 2037.7,279.8 2037.6,290.9 2036.7,301.9 2032.8,321.4 2029.9,336 2027,350.6 2027.7,363.6 2027.7,376.5 2028.9,389.5 2030.1,400 2030.7,410.3 2031,420.6 2031.4,430.8 2032.2,441.1 2030,451.4 2027.8,461.6 2026,471.9 2018.7,482.2 2012.9,492.4 2005.5,502.7 1980.8,517.1 1975,528.4 1970.5,539.7 1968.1,550 1966.4,560.3 1970.5,574.6 1968.3,584.9 1966.3,595.2 1964.4,605.5 1961.7,615.8 1960.3,626 1958.8,636.3 1958.2,646.6 1960.1,656.9 1962.3,667.1 1989,685.6 1976.2,698.6 1963.6,711.7 1950.7,724.7 1932.1,732.1 1922.2,747 1913.5,761.9 1902.8,776.8 1893,791.7 1893,810.4 1917.2,821.5 1920.9,832.7 1893,843.9 1919.7,856.9 1947,869.9 1950.7,881.1 1939.5,892.3 1915.8,902.5 1891.1,912.8 1893,922.1 1901,935.2 1909.7,948.2 1904.2,959.3 1919.9,970.5 1934.6,981.7 1950.7,992.9 1928.4,1007.7 1879.9,1026.4 1891.1,1045 1900.4,1052.4 1898.6,1067.3 1893,1086 1872.5,1093.4 1870.6,1104.6 1876.6,1115.8 1883.7,1127 1883.7,1145.6 1872.5,1164.2 1869.6,1176.6 1867.5,1189 1865,1201.4 1863.3,1212.1 1863.2,1222.8 1861.1,1233.6 1860.8,1244.3 1859.5,1255" fill="none" stroke="#e62200" stroke-width="3" stroke-linejoin="round" stroke-linecap="round"/>
<polyline points="2231.4,176.4 2126.3,187.1 2106.8,198.8 2097.1,210.4 2081.5,222.1 2058.1,239.6 2048.4,250.8 2040,262 2043,275.3 2045.4,288.6 2048.4,301.9 2052.6,316.5 2056.2,331.1 2056.1,344.1 2055.5,357 2056.2,370 2054.5,380 2051.8,390 2049.6,400 2050.1,412.4 2049.6,424.7 2032.2,437 2014.3,448.3 1995.2,459.6 1943.8,469.9 1906.8,478.1 1900.4,489.1 1895,500 1891.6,510 1888.5,520 1885,530 1882,540 1879.6,550 1877,560 1875.8,570 1873.6,580 1871.4,590 1870,600 1869.2,610 1867.7,620 1867.2,630 1865.9,640 1865,650 1864.5,660 1863.7,670 1863.4,680 1862.6,690 1862,700 1861.2,710 1861.8,720 1861.3,730 1861.1,740 1861.5,750 1861,760 1860.6,770 1859.7,780 1860.4,790 1860,800 1859.6,810 1859.7,820 1858.7,830 1859.2,840 1859,850 1859.2,860 1858,870 1858.1,880 1857.7,890 1858,900 1858.8,910 1858.5,920 1859.1,930 1858.8,940 1858.6,950 1859.8,960 1859.5,970 1859.5,980 1860.2,990 1860,1000 1859.6,1010 1860.9,1020 1861,1030 1860.1,1040 1861.5,1050 1861.4,1060 1862,1070 1861.7,1080 1862,1090 1862,1100 1862.5,1110.3 1862.3,1120.7 1862.1,1131 1861.7,1141.3 1861.6,1151.7 1861.8,1162 1862.1,1172.3 1861.8,1182.7 1862.1,1193 1862,1203.3 1861.6,1213.7 1861.4,1224 1861.8,1234.3 1862.5,1244.7 1862,1255" fill="none" stroke="#e62200" stroke-width="3" stroke-linejoin="round" stroke-linecap="round"/>
<polyline points="2255.7,153 2255.2,163.2 2255.7,173.4 2253.7,188 2217.7,199.7 2191.9,209.9 2165.2,220.2 2130.1,226 2102.9,232.8 2081.5,243.5 2075.6,256.2 2046.4,266.9 2038.7,270.8 2042.3,282.9 2045,295 2048.4,311.6 2040.6,324.3 1990,329.2 1939.2,335 1930,345 1925.2,355 1920,365 1915.7,375 1912,385 1908.3,397.5 1905,410 1902.3,420 1898.5,430 1895,440 1891.5,450 1888.5,460 1885,470 1882.2,480 1879.6,490 1876.9,500 1875,510 1874.2,520 1871.8,530 1870.7,540 1870,550 1868,560 1867.2,570 1865.9,580 1865.5,590 1863.5,600 1862.7,610 1862,620 1861.1,630 1860.1,640 1859.4,650 1859.8,660 1858.9,670 1858,680 1857,692 1856,704" fill="none" stroke="#e62200" stroke-width="3" stroke-linejoin="round" stroke-linecap="round"/>
<polyline points="2357.9,164.7 2346.2,177.3 2322.8,187.1 2309.2,199.2 2295.6,211.4 2233.3,216.3 2161.3,222.1 2102.9,232.8 2081.5,243.5 2060,258 2038.7,268.8 2034,279.4 2030,290 2024.6,300 2019.5,310 2015,320 2005,332.5 1995,345 1982.9,355 1970,365 1959.3,375 1950,385 1940.3,397.5 1930,410 1924.1,420 1918.7,430 1912,440 1906.7,450 1903.4,460 1898,470 1895.3,480 1890.9,490 1888.9,500 1885,510 1882.8,520 1880.3,530 1878.8,540 1877.5,550 1875,560 1873.2,570 1873,580 1871.7,590 1870.1,600 1868.7,610 1868,620 1866.4,630 1865.5,640 1864.6,650 1863.5,660 1863.1,670 1862,680 1860.6,690 1860.1,700 1858.4,710 1858.5,720 1857.6,730 1856,740 1854.9,750 1854.6,760 1852.8,770 1851.4,780 1850.4,790 1850,800 1849.9,810 1850.2,820 1849.4,830 1849,840 1848.7,850 1849.1,860 1848.1,870 1848.4,880 1848.2,890 1848,900 1847.7,910 1847.6,920 1847.6,930 1848.3,940 1848.8,950 1849.2,960 1849.2,970 1848.5,980 1848.8,990 1849,1000 1848.6,1010 1849.5,1020 1849.3,1030 1848.8,1040 1849.6,1050 1850,1060 1849.3,1070 1849.3,1080 1850.2,1090 1850,1100 1850.5,1110.3 1850.4,1120.7 1849.5,1131 1849.7,1141.3 1850,1151.7 1850.2,1162 1849.6,1172.3 1850.2,1182.7 1850.5,1193 1850.3,1203.3 1849.9,1213.7 1849.7,1224 1850.2,1234.3 1849.9,1244.7 1850,1255" fill="none" stroke="#e62200" stroke-width="3" stroke-linejoin="round" stroke-linecap="round"/>
<polyline points="2184.6,149.1 2186.3,161.2 2186.6,173.4 2191.2,186.1 2196.3,198.8 2202.2,214.3 2202.7,223.4 2204.2,232.5 2204.1,241.6 2205.5,252 2205.3,262.3 2206.1,272.7 2205.5,282.4 2205.8,292.1 2204.9,301.9 2204.1,311.6 2204.3,321.3 2203.6,331.1 2205,340.8 2204.9,350.5 2204.6,360.3 2205,370 2204.3,380 2203.8,390 2203.9,400 2203.6,410 2204,420 2204.3,430 2205.3,440 2206,450 2206,460 2210.4,470.4 2216.7,480.8 2220.9,491.2 2226.3,501.6 2231,512 2232,521.8 2233.3,531.6 2233.3,541.3 2234.7,551.1 2234.8,560.9 2236.6,570.7 2237.1,580.4 2238.4,590.2 2239,600 2240.8,609.1 2242.4,618.2 2244.5,627.3 2246.3,636.4 2246.8,645.5 2248.2,654.5 2251.2,663.6 2252.1,672.7 2254.2,681.8 2255.2,690.9 2257,700 2257.7,709.4 2258.7,718.8 2257.8,728.2 2258.7,737.6 2259.8,747.1 2260.2,756.5 2261.3,765.9 2261.3,775.3 2261.4,784.7 2262,794.1 2263.2,803.5 2262.8,812.9 2264.1,822.4 2264.3,831.8 2264.4,841.2 2265.7,850.6 2266,860 2266.3,869.3 2268.4,878.7 2269.4,888 2269.6,897.3 2270.4,906.7 2270.7,916 2272.2,925.3 2272.5,934.7 2274.1,944 2274.4,953.3 2274.8,962.7 2276.9,972 2277.5,981.3 2278.2,990.7 2279,1000 2280.3,1009.1 2280.8,1018.2 2280.3,1027.3 2281,1036.4 2282.6,1045.5 2283.2,1054.5 2284.2,1063.6 2284.4,1072.7 2284.4,1081.8 2285.9,1090.9 2286,1100 2286.8,1109.1 2287.1,1118.2 2287.9,1127.4 2289.8,1136.5 2290.3,1145.6 2291.6,1154.7 2292.4,1163.8 2292.4,1172.9 2294.6,1182.1 2294.9,1191.2 2295.4,1200.3 2296.1,1209.4 2297.6,1218.5 2297.9,1227.6 2298.9,1236.8 2300.1,1245.9 2300.8,1255" fill="none" stroke="#3a2088" stroke-width="3" stroke-linejoin="round" stroke-linecap="round"/>
<polyline points="1719.2,160.8 1754.2,173.4 1884.6,182.2 1990,189 2038.7,196.8 2060.6,206.6 2083.4,216.3 2102.9,229.9 2126.3,245.5 2145.7,257.1 2153.6,266.9 2161.3,276.6 2165.6,288.3 2168.5,299.9 2173,311.6 2177.2,321.4 2180.7,331.1 2184.6,340.9 2191.7,350.6 2198.1,360.3 2204.1,370 2208.5,379.7 2213.6,389.5 2218,399.2 2221.2,409.6 2224,420 2221.8,430 2219.8,440 2217.6,450 2215,460 2219.2,470.4 2223.9,480.8 2228.9,491.2 2233.2,501.6 2238,512 2240.3,521.8 2241.6,531.6 2243.6,541.3 2245.9,551.1 2247.3,560.9 2250.4,570.7 2251.6,580.4 2253.2,590.2 2256,600 2256.7,609.1 2256.7,618.2 2257.4,627.3 2257.3,636.4 2258.4,645.5 2258.7,654.5 2258.5,663.6 2259.9,672.7 2259.5,681.8 2260.8,690.9 2261,700 2261.8,709.4 2262.2,718.8 2262.5,728.2 2264.2,737.6 2265,747.1 2265.1,756.5 2266,765.9 2265.9,775.3 2267.5,784.7 2267.4,794.1 2268.3,803.5 2268.5,812.9 2269.7,822.4 2269.7,831.8 2271.4,841.2 2272.1,850.6 2272,860 2272.3,869.3 2273.1,878.7 2274.6,888 2275,897.3 2276.2,906.7 2276.9,916 2277.2,925.3 2277.3,934.7 2278.2,944 2279.1,953.3 2280.1,962.7 2280.7,972 2281.5,981.3 2281.5,990.7 2283,1000 2283.8,1009.1 2283.8,1018.2 2284.4,1027.3 2285.6,1036.4 2286.2,1045.5 2287.2,1054.5 2287.8,1063.6 2288.8,1072.7 2288.9,1081.8 2289,1090.9 2290,1100 2291.1,1109.1 2290.9,1118.2 2291.6,1127.4 2292.6,1136.5 2293.6,1145.6 2294.8,1154.7 2295.3,1163.8 2295.8,1172.9 2295.8,1182.1 2297.3,1191.2 2297.8,1200.3 2298.1,1209.4 2298.4,1218.5 2300.2,1227.6 2301.2,1236.8 2301.7,1245.9 2302,1255" fill="none" stroke="#3a2088" stroke-width="3" stroke-linejoin="round" stroke-linecap="round"/>
<polyline points="1777.6,160.8 1793.2,171.5 1822.4,184.2 1837.8,195.3 1853.5,206.5 1990,217.2 2028.9,222.1 2077.6,229.9 2099,241.6 2106.8,249.4 2126.3,257.1 2145.7,264.9 2152.2,275.6 2159.3,286.3 2164.6,299 2169.1,311.6 2173.6,321.4 2178.3,331.1 2182.7,340.9 2189,350.6 2196.2,360.3 2202.2,370 2208.1,379.7 2214.6,389.5 2219.7,399.2 2226.1,409.6 2233,420 2234.7,430 2236.4,440 2238.6,450 2240,460 2240.7,470.4 2241.6,480.8 2242.4,491.2 2243.4,501.6 2245,512 2245.7,521.8 2247.5,531.6 2248.8,541.3 2251.1,551.1 2251.6,560.9 2254.1,570.7 2254.5,580.4 2256.3,590.2 2258,600 2257.9,609.1 2259.7,618.2 2258.9,627.3 2260.5,636.4 2261,645.5 2260.6,654.5 2261.3,663.6 2263.1,672.7 2263.2,681.8 2263.2,690.9 2264,700 2265,709.4 2265.9,718.8 2265.6,728.2 2265.7,737.6 2267.3,747.1 2268.1,756.5 2268.7,765.9 2267.9,775.3 2269.2,784.7 2270.1,794.1 2270.8,803.5 2270.5,812.9 2272,822.4 2272.2,831.8 2273.5,841.2 2273.8,850.6 2274,860 2274.5,869.3 2275.5,878.7 2277.1,888 2277.4,897.3 2278.2,906.7 2279.3,916 2279.9,925.3 2280.2,934.7 2280.4,944 2281.6,953.3 2283.3,962.7 2283.6,972 2284.9,981.3 2285.4,990.7 2286,1000 2286.6,1009.1 2287.5,1018.2 2287.7,1027.3 2288.4,1036.4 2289.7,1045.5 2289.7,1054.5 2290.7,1063.6 2290.7,1072.7 2291.9,1081.8 2291.9,1090.9 2293,1100 2294.7,1109.1 2295.9,1118.2 2296.7,1127.4 2296.8,1136.5 2298.3,1145.6 2299.9,1154.7 2301.2,1163.8 2302,1172.9 2302.2,1182.1 2303.5,1191.2 2305.7,1200.3 2305.8,1209.4 2307.8,1218.5 2308.7,1227.6 2309.1,1236.8 2310.2,1245.9 2311.9,1255" fill="none" stroke="#3a2088" stroke-width="3" stroke-linejoin="round" stroke-linecap="round"/>
<polyline points="2127.2,149.1 2126.7,161.2 2127.2,173.4 2125.9,184.2 2124.3,194.9 2127.1,204.6 2130.1,214.3 2132.2,224.1 2134,233.8 2134.4,243.5 2134.1,253.3 2134.5,263 2134.9,272.8 2136,282.5 2137.7,291.7 2138.8,300.9 2141,310.2 2141.8,319.4 2192.4,331.1 2195.7,340.8 2199.6,350.6 2203.3,360.3 2206.1,370 2211.5,379.7 2218.3,389.5 2223.6,399.2 2228.3,409.6 2233,420 2236.3,430 2239.6,440 2241.2,450 2245,460 2244.9,470.4 2246.8,480.8 2246.3,491.2 2248.1,501.6 2248,512 2249.7,521.8 2250.4,531.6 2252.8,541.3 2254.1,551.1 2253.9,560.9 2256.5,570.7 2257.7,580.4 2258.3,590.2 2260,600 2260.5,609.1 2260.6,618.2 2262.2,627.3 2261.7,636.4 2262.4,645.5 2263,654.5 2263.7,663.6 2263.6,672.7 2265.7,681.8 2265.3,690.9 2266,700 2266.9,709.4 2267.9,718.8 2267.7,728.2 2267.7,737.6 2268.3,747.1 2269.7,756.5 2270.2,765.9 2271.4,775.3 2271.5,784.7 2272.3,794.1 2272,803.5 2272.9,812.9 2273.4,822.4 2274.7,831.8 2275.6,841.2 2276.1,850.6 2276,860 2277.2,869.3 2277.9,878.7 2278.1,888 2279.2,897.3 2281.3,906.7 2281.5,916 2282.1,925.3 2283,934.7 2284.5,944 2285.7,953.3 2286.9,962.7 2287.1,972 2288,981.3 2289.3,990.7 2290,1000 2290.4,1009.1 2292,1018.2 2292.6,1027.3 2291.9,1036.4 2293.5,1045.5 2294.2,1054.5 2294,1063.6 2295.3,1072.7 2295,1081.8 2296.1,1090.9 2297,1100 2298.5,1109.1 2299.5,1118.2 2299.7,1127.4 2301.4,1136.5 2301,1145.6 2302.5,1154.7 2303.1,1163.8 2305.1,1172.9 2306,1182.1 2306.7,1191.2 2306.8,1200.3 2308.9,1209.4 2309.4,1218.5 2310.7,1227.6 2310.6,1236.8 2312.1,1245.9 2313,1255" fill="none" stroke="#3a2088" stroke-width="3" stroke-linejoin="round" stroke-linecap="round"/>
<polyline points="2168.1,160.8 2167.4,170.1 2168.8,179.4 2168.5,188.7 2167.9,198.1 2168.4,207.4 2168.2,216.7 2168.1,226 2171,237.7 2180.1,250.3 2188.5,263 2190,272.7 2189.7,282.4 2190.8,292.2 2191.1,301.9 2192.4,311.6 2194.2,321.4 2197.1,331.1 2200.4,340.9 2202.2,350.6 2207.2,360.3 2212.6,370.1 2219,379.8 2223.6,389.5 2227.9,399.7 2231,409.8 2235,420 2237.5,430 2241.5,440 2244.3,450 2248,460 2248.9,470.4 2249.7,480.8 2249.7,491.2 2250.3,501.6 2251,512 2251.5,521.8 2252.7,531.6 2254.4,541.3 2256.5,551.1 2256.6,560.9 2257.6,570.7 2259.4,580.4 2260.3,590.2 2262,600 2262.5,609.1 2263.6,618.2 2264,627.3 2264,636.4 2264.2,645.5 2264.8,654.5 2266.5,663.6 2266.1,672.7 2267.6,681.8 2267.3,690.9 2268,700 2268.7,709.4 2269.1,718.8 2270,728.2 2270.4,737.6 2270.7,747.1 2271.1,756.5 2272.7,765.9 2273.4,775.3 2273,784.7 2273.9,794.1 2273.7,803.5 2275.5,812.9 2276.1,822.4 2276.8,831.8 2276.8,841.2 2277,850.6 2278,860 2278.4,869.3 2280,878.7 2280.8,888 2282,897.3 2283.7,906.7 2284,916 2285.1,925.3 2286.3,934.7 2288.2,944 2288.3,953.3 2289.2,962.7 2290.3,972 2291.4,981.3 2293.3,990.7 2294,1000 2294.5,1009.1 2294.9,1018.2 2296,1027.3 2296.4,1036.4 2296.6,1045.5 2298.6,1054.5 2298.7,1063.6 2298.7,1072.7 2299.6,1081.8 2300.8,1090.9 2301,1100 2301.8,1109.1 2303.3,1118.2 2303.9,1127.4 2305.7,1136.5 2307.2,1145.6 2307.7,1154.7 2309.3,1163.8 2310.3,1172.9 2311.2,1182.1 2312.3,1191.2 2313.7,1200.3 2314.5,1209.4 2316,1218.5 2318.1,1227.6 2318.7,1236.8 2319.5,1245.9 2321.3,1255" fill="none" stroke="#3a2088" stroke-width="3" stroke-linejoin="round" stroke-linecap="round"/>
<polyline points="1908,172.5 2009.2,181.2 2038.7,183.2 2067.9,194.9 2116.5,204.6 2136,206.5 2157.4,218.2 2171,231.8 2175,241.6 2184.2,253.3 2194.4,265 2201.3,277.6 2208,290.2 2210.8,300.9 2213.9,311.6 2216.8,321.4 2219.7,331.1 2220.9,340.9 2223.6,350.6 2225.6,360.3 2228.6,370.1 2231,379.8 2233.3,389.5 2234.5,399.7 2236.4,409.8 2239,420 2242.6,430 2244.3,440 2247.9,450 2251,460 2251.1,470.4 2252.3,480.8 2252.8,491.2 2253.1,501.6 2254,512 2254.6,521.8 2256.3,531.6 2258.1,541.3 2259.1,551.1 2259.8,560.9 2261.3,570.7 2261.6,580.4 2262.4,590.2 2264,600 2264.1,609.1 2264.6,618.2 2265.1,627.3 2266.2,636.4 2267.1,645.5 2267.7,654.5 2268.1,663.6 2268.9,672.7 2269.6,681.8 2270,690.9 2270,700 2270,709.4 2271.7,718.8 2271.3,728.2 2271.8,737.6 2272.8,747.1 2273.9,756.5 2273.7,765.9 2275.5,775.3 2275.5,784.7 2276.4,794.1 2276.5,803.5 2276.6,812.9 2278.1,822.4 2277.5,831.8 2279.6,841.2 2279.1,850.6 2280,860 2281.4,869.3 2282.2,878.7 2283.4,888 2284.4,897.3 2286.4,906.7 2286.9,916 2288.4,925.3 2290.3,934.7 2291.4,944 2292.1,953.3 2293.7,962.7 2293.7,972 2295.8,981.3 2297.3,990.7 2298,1000 2299,1009.1 2299.3,1018.2 2300.5,1027.3 2300.8,1036.4 2301.8,1045.5 2302.3,1054.5 2302.8,1063.6 2303.6,1072.7 2304.4,1081.8 2304.5,1090.9 2306,1100 2307.2,1109.1 2308.7,1118.2 2308.7,1127.4 2310.7,1136.5 2310.2,1145.6 2312.1,1154.7 2312.5,1163.8 2314.6,1172.9 2314.8,1182.1 2315.4,1191.2 2317.2,1200.3 2317.8,1209.4 2318.9,1218.5 2320.2,1227.6 2320.7,1236.8 2322.8,1245.9 2323,1255" fill="none" stroke="#3a2088" stroke-width="3" stroke-linejoin="round" stroke-linecap="round"/>
<polyline points="1889.5,149.1 1943,160.8 1990,169.6 2028.9,174.4 2099,181.2 2137.9,185.1 2188.5,194.9 2204.1,204.6 2213.2,216.3 2221.6,228 2233.3,241.6 2234.2,251.1 2236.7,260.5 2238,270 2238.8,280 2238.4,290 2239.5,300 2240,310 2240,320 2241.6,330 2241.7,340 2242,350 2241.7,360 2243.4,370 2243.4,380 2244,390 2243,400 2243.2,410 2243,420 2245.6,430 2249.2,440 2250.6,450 2254,460 2254.1,470.4 2255.6,480.8 2255.9,491.2 2255.8,501.6 2257,512 2257.9,521.8 2259.2,531.6 2259.7,541.3 2261.4,551.1 2261.4,560.9 2263.6,570.7 2264.1,580.4 2264.3,590.2 2266,600 2266.6,609.1 2267.9,618.2 2267.4,627.3 2267.5,636.4 2268.5,645.5 2268.6,654.5 2269.1,663.6 2270.8,672.7 2271.6,681.8 2271.2,690.9 2272,700 2273.4,709.4 2273.4,718.8 2273.8,728.2 2275.1,737.6 2276.3,747.1 2276.4,756.5 2277.1,765.9 2277.7,775.3 2277.6,784.7 2279.6,794.1 2279.7,803.5 2280.8,812.9 2281.3,822.4 2281.9,831.8 2282.3,841.2 2282.6,850.6 2284,860 2285.1,869.3 2286.6,878.7 2288.4,888 2288.5,897.3 2290.8,906.7 2291.2,916 2293.3,925.3 2294.6,934.7 2294.6,944 2297.5,953.3 2298.3,962.7 2299.1,972 2300.6,981.3 2301.5,990.7 2303,1000 2303.8,1009.1 2304.2,1018.2 2305.9,1027.3 2307.1,1036.4 2307.4,1045.5 2308.3,1054.5 2310,1063.6 2310,1072.7 2310.5,1081.8 2311.9,1090.9 2313,1100 2314.8,1109.1 2316,1118.2 2318,1127.4 2319.9,1136.5 2321.2,1145.6 2322.8,1154.7 2324.5,1163.8 2326.3,1172.9 2326.5,1182.1 2328.1,1191.2 2331,1200.3 2332.6,1209.4 2332.9,1218.5 2334.7,1227.6 2336.7,1236.8 2337.6,1245.9 2339.9,1255" fill="none" stroke="#3a2088" stroke-width="3" stroke-linejoin="round" stroke-linecap="round"/>
<polyline points="1988.8,149.1 1989.4,160.5 1990.2,171.8 1989.8,183.2 2009.2,189 2040,192 2090,200 2140,212 2159.4,223.5 2180,235 2186.4,244 2194,253 2200,262 2204.2,271.5 2207.5,281 2212,290.5 2215,300 2219,310 2221.9,320 2225.5,330 2230,340 2233.7,350 2238.1,360 2241.6,370 2245,380 2247.6,390 2250.6,400 2253.2,410 2255,420 2255.6,430 2255.9,440 2256.5,450 2258,460 2258.5,470.4 2258.4,480.8 2260,491.2 2258.9,501.6 2260,512 2261.2,521.8 2261.2,531.6 2261.9,541.3 2263,551.1 2264.1,560.9 2265.4,570.7 2265.7,580.4 2267.9,590.2 2268,600 2268.6,609.1 2269.6,618.2 2270.2,627.3 2270.8,636.4 2271.9,645.5 2272.1,654.5 2273.8,663.6 2274.4,672.7 2275.2,681.8 2275.1,690.9 2276,700 2277.4,709.4 2278,718.8 2278.1,728.2 2279.1,737.6 2280.1,747.1 2280.4,756.5 2281.8,765.9 2281.4,775.3 2282.3,784.7 2284.1,794.1 2284.2,803.5 2284.8,812.9 2285.2,822.4 2287,831.8 2286.8,841.2 2288.1,850.6 2289,860 2290.2,869.3 2292,878.7 2293.7,888 2295.4,897.3 2296.3,906.7 2297,916 2298.3,925.3 2299.9,934.7 2302,944 2302.9,953.3 2304,962.7 2305.7,972 2307.9,981.3 2307.8,990.7 2310,1000 2310.9,1009.1 2311.6,1018.2 2312.5,1027.3 2313.6,1036.4 2315.2,1045.5 2316.2,1054.5 2317,1063.6 2317.9,1072.7 2317.9,1081.8 2319,1090.9 2320,1100 2321,1109.1 2322,1118.2 2323.3,1127.4 2325.2,1136.5 2325.6,1145.6 2326.9,1154.7 2329.1,1163.8 2329.7,1172.9 2331.7,1182.1 2332,1191.2 2333.9,1200.3 2334.6,1209.4 2336.6,1218.5 2337.5,1227.6 2338.9,1236.8 2339.2,1245.9 2341,1255" fill="none" stroke="#3a2088" stroke-width="3" stroke-linejoin="round" stroke-linecap="round"/>
<polyline points="2177.8,160.8 2182.6,171 2188.5,181.2 2196.9,192.9 2204.1,204.6 2213.2,216.3 2221.6,228 2233.3,241.6 2235.5,251.1 2238.4,260.5 2240,270 2242.4,280 2243.4,290 2245,300 2246.7,310 2247,320 2249.3,330 2250,340 2251.7,350 2252.8,360 2255.1,370 2256,380 2257.3,390 2258.9,400 2260.7,410 2262,420 2262.9,430 2264.2,440 2264.5,450 2266,460 2265.9,470.4 2266.4,480.8 2266.5,491.2 2265.8,501.6 2266,512 2265.7,521.8 2266.7,531.6 2266.9,541.3 2267.7,551.1 2268.5,560.9 2268.7,570.7 2269.3,580.4 2269,590.2 2270,600 2270.5,609.1 2272.6,618.2 2272.9,627.3 2274.6,636.4 2275.3,645.5 2276.8,654.5 2277.9,663.6 2279.3,672.7 2280,681.8 2281.5,690.9 2283,700 2284.1,709.4 2284.7,718.8 2285.3,728.2 2286.8,737.6 2288,747.1 2289,756.5 2289.5,765.9 2290.1,775.3 2291,784.7 2292.6,794.1 2292.3,803.5 2293,812.9 2295.1,822.4 2295.5,831.8 2295.9,841.2 2297.6,850.6 2298,860 2299.3,869.3 2301.5,878.7 2302.7,888 2304.3,897.3 2305.7,906.7 2305.7,916 2307.7,925.3 2309.4,934.7 2310.5,944 2312.2,953.3 2313.6,962.7 2315.6,972 2316.3,981.3 2318,990.7 2319,1000 2319.8,1009.1 2320.6,1018.2 2321.7,1027.3 2323.6,1036.4 2323.4,1045.5 2325.7,1054.5 2326.4,1063.6 2327.6,1072.7 2327.4,1081.8 2328.9,1090.9 2330,1100 2331.5,1109.1 2332.7,1118.2 2333.9,1127.4 2334.9,1136.5 2335.3,1145.6 2336.9,1154.7 2338.6,1163.8 2338.5,1172.9 2340.3,1182.1 2341,1191.2 2341.9,1200.3 2344.3,1209.4 2344.9,1218.5 2345.7,1227.6 2346.6,1236.8 2347.3,1245.9 2349.2,1255" fill="none" stroke="#3a2088" stroke-width="3" stroke-linejoin="round" stroke-linecap="round"/>
<polyline points="2236.2,160.8 2236.4,170.7 2235.9,180.5 2235.7,190.3 2236.4,200.2 2235.8,210.1 2235.7,219.9 2235.9,229.8 2236.2,239.6 2237.9,250.3 2241.1,261 2242.3,271.8 2242,282.5 2242.8,292.2 2245,302 2245.4,311.7 2246.1,321.4 2247,331.1 2247.9,340.8 2249.6,350.6 2249.9,360.3 2252.4,369.4 2256.3,378.5 2259.6,387.6 2255.7,397.3 2270.3,409 2274.2,420 2274.2,430 2273.7,440 2273.7,450 2274,460 2276.5,470.4 2277.2,480.8 2279.1,491.2 2281.8,501.6 2283,512 2284,521.8 2283.5,531.6 2284.8,541.3 2284,551.1 2285,560.9 2285.7,570.7 2284.6,580.4 2285,590.2 2286,600 2287.1,609.1 2289.2,618.2 2290.8,627.3 2291.6,636.4 2293.4,645.5 2294.3,654.5 2295.5,663.6 2297.7,672.7 2298.3,681.8 2299.3,690.9 2301,700 2301.7,709.4 2301.7,718.8 2302.1,728.2 2302.1,737.6 2303.2,747.1 2303.8,756.5 2303.7,765.9 2303.6,775.3 2304.7,784.7 2305.7,794.1 2305.7,803.5 2305.9,812.9 2306.7,822.4 2306.2,831.8 2307.9,841.2 2307.6,850.6 2308,860 2308.4,869.3 2309.4,878.7 2310.9,888 2311.6,897.3 2313.5,906.7 2314.1,916 2314.5,925.3 2315.4,934.7 2316.9,944 2318.3,953.3 2318.2,962.7 2319.3,972 2321.4,981.3 2321.4,990.7 2323,1000 2324.8,1009.1 2324.3,1018.2 2325.7,1027.3 2327.3,1036.4 2328.8,1045.5 2328.5,1054.5 2330.7,1063.6 2331,1072.7 2332.6,1081.8 2332.6,1090.9 2334,1100 2334.7,1109.1 2336.5,1118.2 2337.3,1127.4 2337.6,1136.5 2338.4,1145.6 2338.9,1154.7 2340,1163.8 2342.2,1172.9 2342.4,1182.1 2344.1,1191.2 2345.1,1200.3 2344.5,1209.4 2346,1218.5 2347.6,1227.6 2347.4,1236.8 2348.5,1245.9 2350,1255" fill="none" stroke="#3a2088" stroke-width="3" stroke-linejoin="round" stroke-linecap="round"/>
<rect x="574.7" y="117.4" width="810.6" height="1135.2" fill="none" stroke="#000" stroke-width="3"/>
<line x1="558" y1="117.4" x2="574.7" y2="117.4" stroke="#000" stroke-width="3" stroke-linecap="butt"/>
<text x="536" y="133" font-size="44" text-anchor="end" font-weight="normal" font-family="Liberation Sans, Arial, sans-serif" >0</text>
<line x1="558" y1="344.4" x2="574.7" y2="344.4" stroke="#000" stroke-width="3" stroke-linecap="butt"/>
<text x="536" y="360" font-size="44" text-anchor="end" font-weight="normal" font-family="Liberation Sans, Arial, sans-serif" >20</text>
<line x1="558" y1="571.5" x2="574.7" y2="571.5" stroke="#000" stroke-width="3" stroke-linecap="butt"/>
<text x="536" y="587.1" font-size="44" text-anchor="end" font-weight="normal" font-family="Liberation Sans, Arial, sans-serif" >40</text>
<line x1="558" y1="798.5" x2="574.7" y2="798.5" stroke="#000" stroke-width="3" stroke-linecap="butt"/>
<text x="536" y="814.1" font-size="44" text-anchor="end" font-weight="normal" font-family="Liberation Sans, Arial, sans-serif" >60</text>
<line x1="558" y1="1025.6" x2="574.7" y2="1025.6" stroke="#000" stroke-width="3" stroke-linecap="butt"/>
<text x="536" y="1041.2" font-size="44" text-anchor="end" font-weight="normal" font-family="Liberation Sans, Arial, sans-serif" >80</text>
<line x1="558" y1="1252.6" x2="574.7" y2="1252.6" stroke="#000" stroke-width="3" stroke-linecap="butt"/>
<text x="536" y="1268.2" font-size="44" text-anchor="end" font-weight="normal" font-family="Liberation Sans, Arial, sans-serif" >100</text>
<line x1="574.7" y1="1252.6" x2="574.7" y2="1269.6" stroke="#000" stroke-width="3" stroke-linecap="butt"/>
<text x="574.7" y="1331" font-size="44" text-anchor="middle" font-weight="normal" font-family="Liberation Sans, Arial, sans-serif" >29</text>
<line x1="709.8" y1="1252.6" x2="709.8" y2="1269.6" stroke="#000" stroke-width="3" stroke-linecap="butt"/>
<text x="709.8" y="1331" font-size="44" text-anchor="middle" font-weight="normal" font-family="Liberation Sans, Arial, sans-serif" >30</text>
<line x1="844.9" y1="1252.6" x2="844.9" y2="1269.6" stroke="#000" stroke-width="3" stroke-linecap="butt"/>
<text x="844.9" y="1331" font-size="44" text-anchor="middle" font-weight="normal" font-family="Liberation Sans, Arial, sans-serif" >31</text>
<line x1="980" y1="1252.6" x2="980" y2="1269.6" stroke="#000" stroke-width="3" stroke-linecap="butt"/>
<text x="980" y="1331" font-size="44" text-anchor="middle" font-weight="normal" font-family="Liberation Sans, Arial, sans-serif" >32</text>
<line x1="1115.1" y1="1252.6" x2="1115.1" y2="1269.6" stroke="#000" stroke-width="3" stroke-linecap="butt"/>
<text x="1115.1" y="1331" font-size="44" text-anchor="middle" font-weight="normal" font-family="Liberation Sans, Arial, sans-serif" >33</text>
<line x1="1250.2" y1="1252.6" x2="1250.2" y2="1269.6" stroke="#000" stroke-width="3" stroke-linecap="butt"/>
<text x="1250.2" y="1331" font-size="44" text-anchor="middle" font-weight="normal" font-family="Liberation Sans, Arial, sans-serif" >34</text>
<line x1="1385.3" y1="1252.6" x2="1385.3" y2="1269.6" stroke="#000" stroke-width="3" stroke-linecap="butt"/>
<text x="1385.3" y="1331" font-size="44" text-anchor="middle" font-weight="normal" font-family="Liberation Sans, Arial, sans-serif" >35</text>
<rect x="1695.4" y="121.1" width="769.6" height="1134.4" fill="none" stroke="#000" stroke-width="3"/>
<line x1="1678.3" y1="121.1" x2="1695.4" y2="121.1" stroke="#000" stroke-width="3" stroke-linecap="butt"/>
<text x="1657" y="136.7" font-size="44" text-anchor="end" font-weight="normal" font-family="Liberation Sans, Arial, sans-serif" >0</text>
<line x1="1678.3" y1="348" x2="1695.4" y2="348" stroke="#000" stroke-width="3" stroke-linecap="butt"/>
<text x="1657" y="363.6" font-size="44" text-anchor="end" font-weight="normal" font-family="Liberation Sans, Arial, sans-serif" >20</text>
<line x1="1678.3" y1="574.9" x2="1695.4" y2="574.9" stroke="#000" stroke-width="3" stroke-linecap="butt"/>
<text x="1657" y="590.5" font-size="44" text-anchor="end" font-weight="normal" font-family="Liberation Sans, Arial, sans-serif" >40</text>
<line x1="1678.3" y1="801.7" x2="1695.4" y2="801.7" stroke="#000" stroke-width="3" stroke-linecap="butt"/>
<text x="1657" y="817.3" font-size="44" text-anchor="end" font-weight="normal" font-family="Liberation Sans, Arial, sans-serif" >60</text>
<line x1="1678.3" y1="1028.6" x2="1695.4" y2="1028.6" stroke="#000" stroke-width="3" stroke-linecap="butt"/>
<text x="1657" y="1044.2" font-size="44" text-anchor="end" font-weight="normal" font-family="Liberation Sans, Arial, sans-serif" >80</text>
<line x1="1678.3" y1="1255.5" x2="1695.4" y2="1255.5" stroke="#000" stroke-width="3" stroke-linecap="butt"/>
<text x="1657" y="1271.1" font-size="44" text-anchor="end" font-weight="normal" font-family="Liberation Sans, Arial, sans-serif" >100</text>
<line x1="1695.4" y1="1255.5" x2="1695.4" y2="1272.5" stroke="#000" stroke-width="3" stroke-linecap="butt"/>
<text x="1695.4" y="1334.2" font-size="44" text-anchor="middle" font-weight="normal" font-family="Liberation Sans, Arial, sans-serif" >20</text>
<line x1="1791.6" y1="1255.5" x2="1791.6" y2="1272.5" stroke="#000" stroke-width="3" stroke-linecap="butt"/>
<text x="1791.6" y="1334.2" font-size="44" text-anchor="middle" font-weight="normal" font-family="Liberation Sans, Arial, sans-serif" >22</text>
<line x1="1887.8" y1="1255.5" x2="1887.8" y2="1272.5" stroke="#000" stroke-width="3" stroke-linecap="butt"/>
<text x="1887.8" y="1334.2" font-size="44" text-anchor="middle" font-weight="normal" font-family="Liberation Sans, Arial, sans-serif" >24</text>
<line x1="1984" y1="1255.5" x2="1984" y2="1272.5" stroke="#000" stroke-width="3" stroke-linecap="butt"/>
<text x="1984" y="1334.2" font-size="44" text-anchor="middle" font-weight="normal" font-family="Liberation Sans, Arial, sans-serif" >26</text>
<line x1="2080.2" y1="1255.5" x2="2080.2" y2="1272.5" stroke="#000" stroke-width="3" stroke-linecap="butt"/>
<text x="2080.2" y="1334.2" font-size="44" text-anchor="middle" font-weight="normal" font-family="Liberation Sans, Arial, sans-serif" >28</text>
<line x1="2176.4" y1="1255.5" x2="2176.4" y2="1272.5" stroke="#000" stroke-width="3" stroke-linecap="butt"/>
<text x="2176.4" y="1334.2" font-size="44" text-anchor="middle" font-weight="normal" font-family="Liberation Sans, Arial, sans-serif" >30</text>
<line x1="2272.6" y1="1255.5" x2="2272.6" y2="1272.5" stroke="#000" stroke-width="3" stroke-linecap="butt"/>
<text x="2272.6" y="1334.2" font-size="44" text-anchor="middle" font-weight="normal" font-family="Liberation Sans, Arial, sans-serif" >32</text>
<line x1="2368.8" y1="1255.5" x2="2368.8" y2="1272.5" stroke="#000" stroke-width="3" stroke-linecap="butt"/>
<text x="2368.8" y="1334.2" font-size="44" text-anchor="middle" font-weight="normal" font-family="Liberation Sans, Arial, sans-serif" >34</text>
<line x1="2465" y1="1255.5" x2="2465" y2="1272.5" stroke="#000" stroke-width="3" stroke-linecap="butt"/>
<text x="2465" y="1334.2" font-size="44" text-anchor="middle" font-weight="normal" font-family="Liberation Sans, Arial, sans-serif" >36</text>
<polyline points="575.2,1414.8 575.2,1398.5 1385.3,1398.5 1385.3,1414.8" fill="none" stroke="#000" stroke-width="3"/>
<line x1="690.9" y1="1398.5" x2="690.9" y2="1414.8" stroke="#000" stroke-width="3" stroke-linecap="butt"/>
<line x1="806.7" y1="1398.5" x2="806.7" y2="1414.8" stroke="#000" stroke-width="3" stroke-linecap="butt"/>
<line x1="922.4" y1="1398.5" x2="922.4" y2="1414.8" stroke="#000" stroke-width="3" stroke-linecap="butt"/>
<line x1="1038.1" y1="1398.5" x2="1038.1" y2="1414.8" stroke="#000" stroke-width="3" stroke-linecap="butt"/>
<line x1="1153.8" y1="1398.5" x2="1153.8" y2="1414.8" stroke="#000" stroke-width="3" stroke-linecap="butt"/>
<line x1="1269.6" y1="1398.5" x2="1269.6" y2="1414.8" stroke="#000" stroke-width="3" stroke-linecap="butt"/>
<text x="575.2" y="1477" font-size="44" text-anchor="middle" font-weight="normal" font-family="Liberation Sans, Arial, sans-serif" >-4</text>
<text x="690.9" y="1477" font-size="44" text-anchor="middle" font-weight="normal" font-family="Liberation Sans, Arial, sans-serif" >-2</text>
<text x="806.7" y="1477" font-size="44" text-anchor="middle" font-weight="normal" font-family="Liberation Sans, Arial, sans-serif" >0</text>
<text x="922.4" y="1477" font-size="44" text-anchor="middle" font-weight="normal" font-family="Liberation Sans, Arial, sans-serif" >2</text>
<text x="1038.1" y="1477" font-size="44" text-anchor="middle" font-weight="normal" font-family="Liberation Sans, Arial, sans-serif" >4</text>
<text x="1153.8" y="1477" font-size="44" text-anchor="middle" font-weight="normal" font-family="Liberation Sans, Arial, sans-serif" >6</text>
<text x="1269.6" y="1477" font-size="44" text-anchor="middle" font-weight="normal" font-family="Liberation Sans, Arial, sans-serif" >8</text>
<text x="1385.3" y="1477" font-size="44" text-anchor="middle" font-weight="normal" font-family="Liberation Sans, Arial, sans-serif" >10</text>
<polyline points="574,1550 574,1534 1383.4,1534 1383.4,1550" fill="none" stroke="#000" stroke-width="3"/>
<line x1="708.9" y1="1534" x2="708.9" y2="1550" stroke="#000" stroke-width="3" stroke-linecap="butt"/>
<line x1="843.8" y1="1534" x2="843.8" y2="1550" stroke="#000" stroke-width="3" stroke-linecap="butt"/>
<line x1="978.7" y1="1534" x2="978.7" y2="1550" stroke="#000" stroke-width="3" stroke-linecap="butt"/>
<line x1="1113.6" y1="1534" x2="1113.6" y2="1550" stroke="#000" stroke-width="3" stroke-linecap="butt"/>
<line x1="1248.5" y1="1534" x2="1248.5" y2="1550" stroke="#000" stroke-width="3" stroke-linecap="butt"/>
<text x="574" y="1613.4" font-size="44" text-anchor="middle" font-weight="normal" font-family="Liberation Sans, Arial, sans-serif" >0,00</text>
<text x="708.9" y="1613.4" font-size="44" text-anchor="middle" font-weight="normal" font-family="Liberation Sans, Arial, sans-serif" >0,05</text>
<text x="843.8" y="1613.4" font-size="44" text-anchor="middle" font-weight="normal" font-family="Liberation Sans, Arial, sans-serif" >0,10</text>
<text x="978.7" y="1613.4" font-size="44" text-anchor="middle" font-weight="normal" font-family="Liberation Sans, Arial, sans-serif" >0,15</text>
<text x="1113.6" y="1613.4" font-size="44" text-anchor="middle" font-weight="normal" font-family="Liberation Sans, Arial, sans-serif" >0,20</text>
<text x="1248.5" y="1613.4" font-size="44" text-anchor="middle" font-weight="normal" font-family="Liberation Sans, Arial, sans-serif" >0,25</text>
<text x="1383.4" y="1613.4" font-size="44" text-anchor="middle" font-weight="normal" font-family="Liberation Sans, Arial, sans-serif" >0,30</text>
<polyline points="1694,1422.5 1694,1406.5 2463.8,1406.5 2463.8,1422.5" fill="none" stroke="#000" stroke-width="3"/>
<line x1="1822.3" y1="1406.5" x2="1822.3" y2="1422.5" stroke="#000" stroke-width="3" stroke-linecap="butt"/>
<line x1="1950.6" y1="1406.5" x2="1950.6" y2="1422.5" stroke="#000" stroke-width="3" stroke-linecap="butt"/>
<line x1="2078.9" y1="1406.5" x2="2078.9" y2="1422.5" stroke="#000" stroke-width="3" stroke-linecap="butt"/>
<line x1="2207.2" y1="1406.5" x2="2207.2" y2="1422.5" stroke="#000" stroke-width="3" stroke-linecap="butt"/>
<line x1="2335.5" y1="1406.5" x2="2335.5" y2="1422.5" stroke="#000" stroke-width="3" stroke-linecap="butt"/>
<text x="1694" y="1485.2" font-size="44" text-anchor="middle" font-weight="normal" font-family="Liberation Sans, Arial, sans-serif" >-4</text>
<text x="1822.3" y="1485.2" font-size="44" text-anchor="middle" font-weight="normal" font-family="Liberation Sans, Arial, sans-serif" >-2</text>
<text x="1950.6" y="1485.2" font-size="44" text-anchor="middle" font-weight="normal" font-family="Liberation Sans, Arial, sans-serif" >0</text>
<text x="2078.9" y="1485.2" font-size="44" text-anchor="middle" font-weight="normal" font-family="Liberation Sans, Arial, sans-serif" >2</text>
<text x="2207.2" y="1485.2" font-size="44" text-anchor="middle" font-weight="normal" font-family="Liberation Sans, Arial, sans-serif" >4</text>
<text x="2335.5" y="1485.2" font-size="44" text-anchor="middle" font-weight="normal" font-family="Liberation Sans, Arial, sans-serif" >6</text>
<text x="2463.8" y="1485.2" font-size="44" text-anchor="middle" font-weight="normal" font-family="Liberation Sans, Arial, sans-serif" >8</text>
<polyline points="1694,1558.2 1694,1542.2 2464.2,1542.2 2464.2,1558.2" fill="none" stroke="#000" stroke-width="3"/>
<line x1="1822.4" y1="1542.2" x2="1822.4" y2="1558.2" stroke="#000" stroke-width="3" stroke-linecap="butt"/>
<line x1="1950.7" y1="1542.2" x2="1950.7" y2="1558.2" stroke="#000" stroke-width="3" stroke-linecap="butt"/>
<line x1="2079.1" y1="1542.2" x2="2079.1" y2="1558.2" stroke="#000" stroke-width="3" stroke-linecap="butt"/>
<line x1="2207.5" y1="1542.2" x2="2207.5" y2="1558.2" stroke="#000" stroke-width="3" stroke-linecap="butt"/>
<line x1="2335.8" y1="1542.2" x2="2335.8" y2="1558.2" stroke="#000" stroke-width="3" stroke-linecap="butt"/>
<text x="1694" y="1620.2" font-size="44" text-anchor="middle" font-weight="normal" font-family="Liberation Sans, Arial, sans-serif" >0,0</text>
<text x="1822.4" y="1620.2" font-size="44" text-anchor="middle" font-weight="normal" font-family="Liberation Sans, Arial, sans-serif" >0,5</text>
<text x="1950.7" y="1620.2" font-size="44" text-anchor="middle" font-weight="normal" font-family="Liberation Sans, Arial, sans-serif" >1,0</text>
<text x="2079.1" y="1620.2" font-size="44" text-anchor="middle" font-weight="normal" font-family="Liberation Sans, Arial, sans-serif" >1,5</text>
<text x="2207.5" y="1620.2" font-size="44" text-anchor="middle" font-weight="normal" font-family="Liberation Sans, Arial, sans-serif" >2,0</text>
<text x="2335.8" y="1620.2" font-size="44" text-anchor="middle" font-weight="normal" font-family="Liberation Sans, Arial, sans-serif" >2,5</text>
<text x="2464.2" y="1620.2" font-size="44" text-anchor="middle" font-weight="normal" font-family="Liberation Sans, Arial, sans-serif" >3,0</text>
<text x="676.6" y="51" font-size="62" text-anchor="start" font-weight="normal" font-family="Liberation Sans, Arial, sans-serif" >West Greenland Shelf</text>
<text x="1785.8" y="54.6" font-size="62" text-anchor="start" font-weight="normal" font-family="Liberation Sans, Arial, sans-serif" >East Greenland Shelf</text>
<text transform="translate(411.5,685.2) rotate(-90)" font-size="54" text-anchor="middle" font-family="Liberation Sans, Arial, sans-serif">depth [m]</text>
<text transform="translate(1531.9,688.9) rotate(-90)" font-size="54" text-anchor="middle" font-family="Liberation Sans, Arial, sans-serif">depth [m]</text>
<line x1="184.4" y1="1329.7" x2="286.8" y2="1329.7" stroke="#3a2088" stroke-width="3.2" stroke-linecap="round"/>
<text x="309" y="1346" font-size="45" text-anchor="start" font-weight="normal" font-family="Liberation Sans, Arial, sans-serif" >Salinity</text>
<line x1="55.3" y1="1458.8" x2="158" y2="1458.8" stroke="#e62200" stroke-width="3.2" stroke-linecap="round"/>
<text x="181" y="1474.6" font-size="45.7" text-anchor="start" font-weight="normal" font-family="Liberation Sans, Arial, sans-serif" >Temperature [C]</text>
<line x1="3.5" y1="1586.2" x2="105.3" y2="1586.2" stroke="#2e8a2a" stroke-width="3.2" stroke-linecap="round"/>
<text x="129" y="1602" font-size="45.4" text-anchor="start" font-weight="normal" font-family="Liberation Sans, Arial, sans-serif" >Chl<tspan font-style="italic">a</tspan> [relative units]</text>
<text x="1285.5" y="258" font-size="53.5" text-anchor="middle" font-weight="bold" font-family="Liberation Sans, Arial, sans-serif" >Surface</text>
<text x="1286.6" y="320.5" font-size="53.5" text-anchor="middle" font-weight="bold" font-family="Liberation Sans, Arial, sans-serif" >Water</text>
<text x="1308.1" y="615.3" font-size="53.5" text-anchor="middle" font-weight="bold" font-family="Liberation Sans, Arial, sans-serif" >DCM</text>
<text x="1068.4" y="1094.7" font-size="53.5" text-anchor="middle" font-weight="bold" font-family="Liberation Sans, Arial, sans-serif" >WSGC</text>
<text x="2357.2" y="326" font-size="53.5" text-anchor="middle" font-weight="bold" font-family="Liberation Sans, Arial, sans-serif" >Surface</text>
<text x="2358.4" y="388.9" font-size="53.5" text-anchor="middle" font-weight="bold" font-family="Liberation Sans, Arial, sans-serif" >Water</text>
<text x="2379.6" y="639.8" font-size="53.5" text-anchor="middle" font-weight="bold" font-family="Liberation Sans, Arial, sans-serif" >DCM</text>
<text x="2083.5" y="1157.7" font-size="54" text-anchor="middle" font-weight="bold" font-family="Liberation Sans, Arial, sans-serif" >Polar Water</text>
<text x="1345.3" y="176.3" font-size="79.5" text-anchor="middle" font-weight="bold" font-family="Liberation Serif, Times New Roman, serif" >a</text>
<text x="2430.5" y="196.8" font-size="79.5" text-anchor="middle" font-weight="bold" font-family="Liberation Serif, Times New Roman, serif" >b</text>
</svg></body></html>
